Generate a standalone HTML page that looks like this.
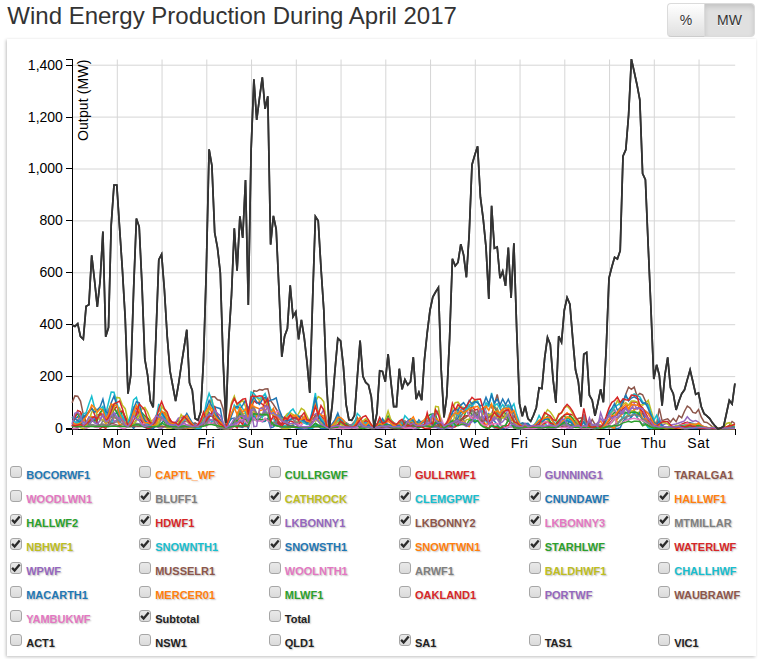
<!DOCTYPE html>
<html><head><meta charset="utf-8"><title>Wind Energy Production</title>
<style>
html,body{margin:0;padding:0;background:#fff;}
body{width:761px;height:659px;overflow:hidden;position:relative;font-family:"Liberation Sans",sans-serif;font-size:14px;color:#333;}
h3{position:absolute;left:7.3px;top:0px;margin:0;font-size:24px;font-weight:normal;line-height:32px;color:#333;white-space:nowrap;}
.bg{position:absolute;left:667px;top:3px;height:34px;}
.btn{position:absolute;top:0;height:32px;line-height:32px;text-align:center;font-size:14px;color:#333;border:1px solid #ccc;text-shadow:0 1px 0 #fff;}
.b1{left:0;width:36px;border-radius:4px 0 0 4px;background:linear-gradient(#fff,#e0e0e0);border-color:#dbdbdb #ccc #ccc #dbdbdb;}
.b2{left:37px;width:49px;border-radius:0 4px 4px 0;background:#e0e0e0;border-color:#dbdbdb;box-shadow:inset 0 3px 5px rgba(0,0,0,.125);}
.box{position:absolute;left:7px;top:38.5px;width:748.5px;height:617.5px;box-shadow:-1px 1px 3px rgba(0,0,0,.25);}
svg.ch{position:absolute;left:0;top:0;}
svg.ch text{font-family:"Liberation Sans",sans-serif;font-size:14px;fill:#000;}
.g{stroke:#d6d6d6;stroke-width:1;fill:none;}
.ax{stroke:#000;stroke-width:1;fill:none;shape-rendering:crispEdges;}
.l{fill:none;stroke-width:1.5;}
.cb{position:absolute;width:10px;height:10px;border:1px solid #a6a6a6;border-radius:3px;background:linear-gradient(#e9e9e9,#dbdbdb);}
.cb svg{position:absolute;left:-1px;top:-1px;width:12px;height:12px;}
.cb svg path{fill:none;stroke:#2b2b2b;stroke-width:2.3;}
.lb{position:absolute;font-size:11px;font-weight:bold;line-height:13px;white-space:nowrap;text-shadow:1px 1px 1.5px rgba(0,0,0,.24);}
</style></head><body>
<h3>Wind Energy Production During April 2017</h3>
<div class="bg"><div class="btn b1">%</div><div class="btn b2">MW</div></div>
<div class="box"></div>
<svg class="ch" width="761" height="460" viewBox="0 0 761 460">
<line class="g" x1="117.30" x2="117.30" y1="59.5" y2="428.5"/>
<line class="g" x1="162.05" x2="162.05" y1="59.5" y2="428.5"/>
<line class="g" x1="206.80" x2="206.80" y1="59.5" y2="428.5"/>
<line class="g" x1="251.55" x2="251.55" y1="59.5" y2="428.5"/>
<line class="g" x1="296.30" x2="296.30" y1="59.5" y2="428.5"/>
<line class="g" x1="341.05" x2="341.05" y1="59.5" y2="428.5"/>
<line class="g" x1="385.80" x2="385.80" y1="59.5" y2="428.5"/>
<line class="g" x1="430.55" x2="430.55" y1="59.5" y2="428.5"/>
<line class="g" x1="475.30" x2="475.30" y1="59.5" y2="428.5"/>
<line class="g" x1="520.05" x2="520.05" y1="59.5" y2="428.5"/>
<line class="g" x1="564.80" x2="564.80" y1="59.5" y2="428.5"/>
<line class="g" x1="609.55" x2="609.55" y1="59.5" y2="428.5"/>
<line class="g" x1="654.30" x2="654.30" y1="59.5" y2="428.5"/>
<line class="g" x1="699.05" x2="699.05" y1="59.5" y2="428.5"/>
<line class="g" x1="72.5" x2="735.2" y1="376.60" y2="376.60"/>
<line class="g" x1="72.5" x2="735.2" y1="324.70" y2="324.70"/>
<line class="g" x1="72.5" x2="735.2" y1="272.80" y2="272.80"/>
<line class="g" x1="72.5" x2="735.2" y1="220.90" y2="220.90"/>
<line class="g" x1="72.5" x2="735.2" y1="169.00" y2="169.00"/>
<line class="g" x1="72.5" x2="735.2" y1="117.10" y2="117.10"/>
<line class="g" x1="72.5" x2="735.2" y1="65.20" y2="65.20"/>
<path class="ax" d="M72.5,434.5V429.5H735.2V434.5"/>
<path class="ax" d="M65.5,59.5H72.5V434.5"/>
<rect x="66.0" y="428.0" width="7" height="2" fill="#000" shape-rendering="crispEdges"/>
<rect x="117" y="429" width="1" height="6" fill="#000" shape-rendering="crispEdges"/>
<text x="116.80" y="448.4" text-anchor="middle" style="letter-spacing:.45px">Mon</text>
<rect x="162" y="429" width="1" height="6" fill="#000" shape-rendering="crispEdges"/>
<text x="161.55" y="448.4" text-anchor="middle" style="letter-spacing:.45px">Wed</text>
<rect x="206" y="429" width="1" height="6" fill="#000" shape-rendering="crispEdges"/>
<text x="206.30" y="448.4" text-anchor="middle" style="letter-spacing:.45px">Fri</text>
<rect x="251" y="429" width="1" height="6" fill="#000" shape-rendering="crispEdges"/>
<text x="251.05" y="448.4" text-anchor="middle" style="letter-spacing:.45px">Sun</text>
<rect x="296" y="429" width="1" height="6" fill="#000" shape-rendering="crispEdges"/>
<text x="295.80" y="448.4" text-anchor="middle" style="letter-spacing:.45px">Tue</text>
<rect x="341" y="429" width="1" height="6" fill="#000" shape-rendering="crispEdges"/>
<text x="340.55" y="448.4" text-anchor="middle" style="letter-spacing:.45px">Thu</text>
<rect x="385" y="429" width="1" height="6" fill="#000" shape-rendering="crispEdges"/>
<text x="385.30" y="448.4" text-anchor="middle" style="letter-spacing:.45px">Sat</text>
<rect x="430" y="429" width="1" height="6" fill="#000" shape-rendering="crispEdges"/>
<text x="430.05" y="448.4" text-anchor="middle" style="letter-spacing:.45px">Mon</text>
<rect x="475" y="429" width="1" height="6" fill="#000" shape-rendering="crispEdges"/>
<text x="474.80" y="448.4" text-anchor="middle" style="letter-spacing:.45px">Wed</text>
<rect x="520" y="429" width="1" height="6" fill="#000" shape-rendering="crispEdges"/>
<text x="519.55" y="448.4" text-anchor="middle" style="letter-spacing:.45px">Fri</text>
<rect x="564" y="429" width="1" height="6" fill="#000" shape-rendering="crispEdges"/>
<text x="564.30" y="448.4" text-anchor="middle" style="letter-spacing:.45px">Sun</text>
<rect x="609" y="429" width="1" height="6" fill="#000" shape-rendering="crispEdges"/>
<text x="609.05" y="448.4" text-anchor="middle" style="letter-spacing:.45px">Tue</text>
<rect x="654" y="429" width="1" height="6" fill="#000" shape-rendering="crispEdges"/>
<text x="653.80" y="448.4" text-anchor="middle" style="letter-spacing:.45px">Thu</text>
<rect x="699" y="429" width="1" height="6" fill="#000" shape-rendering="crispEdges"/>
<text x="698.55" y="448.4" text-anchor="middle" style="letter-spacing:.45px">Sat</text>
<line class="ax" x1="65.5" x2="72.5" y1="428.50" y2="428.50"/>
<text x="62.9" y="432.98" text-anchor="end">0</text>
<line class="ax" x1="65.5" x2="72.5" y1="376.60" y2="376.60"/>
<text x="62.9" y="381.08" text-anchor="end">200</text>
<line class="ax" x1="65.5" x2="72.5" y1="324.70" y2="324.70"/>
<text x="62.9" y="329.18" text-anchor="end">400</text>
<line class="ax" x1="65.5" x2="72.5" y1="272.80" y2="272.80"/>
<text x="62.9" y="277.28" text-anchor="end">600</text>
<line class="ax" x1="65.5" x2="72.5" y1="220.90" y2="220.90"/>
<text x="62.9" y="225.38" text-anchor="end">800</text>
<line class="ax" x1="65.5" x2="72.5" y1="168.40" y2="168.40"/>
<text x="62.9" y="173.48" text-anchor="end">1,000</text>
<line class="ax" x1="65.5" x2="72.5" y1="117.10" y2="117.10"/>
<text x="62.9" y="121.58" text-anchor="end">1,200</text>
<line class="ax" x1="65.5" x2="72.5" y1="65.20" y2="65.20"/>
<text x="62.9" y="69.68" text-anchor="end">1,400</text>
<text transform="translate(72.5,59.5) rotate(-90)" y="6" dy="9.94" text-anchor="end" style="letter-spacing:.13px">Output (MW)</text>
<path class="l" stroke="#7f7f7f" d="M72.1,428.5L74.9,428.5L77.7,427.2L80.5,422.5L83.3,424.7L86.1,427.0L88.9,424.4L91.7,417.9L94.5,421.5L97.3,423.0L100.1,426.0L102.9,420.6L105.7,422.7L108.5,422.7L111.2,422.6L114.0,422.5L116.8,421.7L119.6,421.9L122.4,419.7L125.2,423.5L128.0,424.9L130.8,424.6L133.6,412.8L136.4,417.9L139.2,419.2L142.0,421.3L144.8,424.2L147.6,427.4L150.4,427.3L153.2,427.7L156.0,424.3L158.8,422.5L161.6,417.8L164.4,419.3L167.2,422.1L170.0,424.3L172.8,425.4L175.6,426.8L178.4,427.1L181.2,427.4L184.0,428.2L186.8,428.4L189.5,427.4L192.3,427.8L195.1,428.2L197.9,427.7L200.7,427.1L203.5,421.6L206.3,423.2L209.1,421.8L211.9,422.9L214.7,424.0L217.5,424.5L220.3,427.5L223.1,428.5L225.9,428.5L228.7,428.5L231.5,427.3L234.3,423.3L237.1,418.2L239.9,409.3L242.7,418.6L245.5,418.6L248.3,416.3L251.1,415.9L253.9,413.1L256.7,420.4L259.5,418.6L262.3,416.1L265.1,415.4L267.8,414.0L270.6,424.2L273.4,424.0L276.2,420.1L279.0,423.0L281.8,427.0L284.6,426.2L287.4,426.5L290.2,427.9L293.0,424.6L295.8,419.7L298.6,416.6L301.4,415.8L304.2,419.3L307.0,422.2L309.8,424.0L312.6,421.5L315.4,420.1L318.2,421.1L321.0,425.1L323.8,426.6L326.6,427.7L329.4,428.5L332.2,428.4L335.0,428.3L337.8,428.5L340.6,428.5L343.4,428.5L346.1,428.5L348.9,428.5L351.7,428.0L354.5,428.0L357.3,428.5L360.1,428.2L362.9,427.9L365.7,427.6L368.5,427.4L371.3,427.5L374.1,428.1L376.9,424.2L379.7,421.1L382.5,423.3L385.3,422.9L388.1,418.7L390.9,420.6L393.7,422.7L396.5,426.1L399.3,426.7L402.1,425.9L404.9,425.4L407.7,427.1L410.5,427.5L413.3,426.8L416.1,425.1L418.9,426.4L421.7,421.7L424.4,422.2L427.2,420.2L430.0,423.6L432.8,424.4L435.6,422.0L438.4,421.9L441.2,426.5L444.0,427.9L446.8,427.4L449.6,424.1L452.4,413.2L455.2,418.1L458.0,419.5L460.8,418.3L463.6,420.0L466.4,424.4L469.2,424.9L472.0,420.5L474.8,420.4L477.6,414.9L480.4,422.2L483.2,425.0L486.0,427.9L488.8,428.5L491.6,425.9L494.4,428.0L497.2,427.4L500.0,428.1L502.7,426.5L505.5,426.5L508.3,418.8L511.1,423.6L513.9,426.8L516.7,428.5L519.5,428.5L522.3,428.5L525.1,428.5L527.9,428.5L530.7,428.5L533.5,428.5L536.3,428.5L539.1,428.5L541.9,428.5L544.7,427.7L547.5,426.3L550.3,427.7L553.1,428.3L555.9,427.1L558.7,424.1L561.5,417.6L564.3,422.8L567.1,425.4L569.9,425.8L572.7,423.9L575.5,421.4L578.3,422.8L581.0,421.8L583.8,421.3L586.6,427.2L589.4,427.1L592.2,428.1L595.0,428.5L597.8,427.7L600.6,425.7L603.4,426.5L606.2,426.0L609.0,424.4L611.8,422.4L614.6,419.3L617.4,419.1L620.2,415.8L623.0,418.1L625.8,416.7L628.6,414.9L631.4,411.7L634.2,412.6L637.0,417.3L639.8,420.9L642.6,424.7L645.4,422.6L648.2,423.2L651.0,425.5L653.8,426.4L656.6,427.1L659.3,426.7L662.1,427.6L664.9,428.2L667.7,428.2L670.5,427.3L673.3,427.4L676.1,427.3L678.9,427.6L681.7,426.7L684.5,425.0L687.3,422.6L690.1,422.8L692.9,424.8L695.7,426.6L698.5,427.2L701.3,428.2L704.1,428.3L706.9,428.4L709.7,428.5L712.5,428.4L715.3,428.4L718.1,428.4L720.9,428.4L723.7,428.3L726.5,428.1L729.3,427.9L732.1,427.9L734.9,428.1"/>
<path class="l" stroke="#bcbd22" d="M72.1,426.5L74.9,424.6L77.7,422.7L80.5,427.6L83.3,428.5L86.1,428.3L88.9,426.4L91.7,418.9L94.5,417.9L97.3,414.8L100.1,414.2L102.9,409.3L105.7,414.9L108.5,409.4L111.2,404.3L114.0,408.1L116.8,411.3L119.6,407.9L122.4,415.6L125.2,423.2L128.0,421.4L130.8,423.2L133.6,414.7L136.4,414.3L139.2,413.9L142.0,420.0L144.8,417.3L147.6,420.1L150.4,421.0L153.2,424.1L156.0,421.3L158.8,425.0L161.6,425.7L164.4,426.7L167.2,428.0L170.0,428.1L172.8,428.3L175.6,426.7L178.4,425.8L181.2,427.0L184.0,428.2L186.8,428.5L189.5,426.5L192.3,425.8L195.1,428.2L197.9,426.6L200.7,421.7L203.5,417.8L206.3,421.6L209.1,415.7L211.9,416.1L214.7,412.5L217.5,420.0L220.3,425.4L223.1,428.1L225.9,428.5L228.7,428.5L231.5,428.5L234.3,425.1L237.1,420.5L239.9,413.3L242.7,413.9L245.5,413.0L248.3,419.7L251.1,416.6L253.9,409.8L256.7,416.2L259.5,412.8L262.3,417.1L265.1,410.0L267.8,414.0L270.6,425.6L273.4,422.5L276.2,422.5L279.0,425.9L281.8,428.5L284.6,428.5L287.4,428.5L290.2,427.6L293.0,423.8L295.8,421.4L298.6,422.9L301.4,422.4L304.2,421.6L307.0,421.8L309.8,421.8L312.6,419.9L315.4,421.1L318.2,419.4L321.0,422.6L323.8,425.1L326.6,425.6L329.4,428.4L332.2,426.3L335.0,424.0L337.8,419.9L340.6,423.1L343.4,425.7L346.1,424.8L348.9,426.9L351.7,425.6L354.5,423.1L357.3,420.5L360.1,425.5L362.9,427.1L365.7,422.7L368.5,423.5L371.3,425.7L374.1,427.9L376.9,426.8L379.7,425.7L382.5,425.8L385.3,424.6L388.1,426.2L390.9,428.3L393.7,426.1L396.5,426.7L399.3,426.9L402.1,426.3L404.9,427.9L407.7,427.5L410.5,426.5L413.3,423.3L416.1,425.1L418.9,425.4L421.7,424.8L424.4,425.2L427.2,425.8L430.0,425.2L432.8,423.6L435.6,425.2L438.4,427.9L441.2,427.8L444.0,428.2L446.8,424.6L449.6,419.9L452.4,423.7L455.2,414.4L458.0,407.9L460.8,423.6L463.6,424.3L466.4,419.6L469.2,419.2L472.0,414.4L474.8,416.0L477.6,417.9L480.4,422.5L483.2,424.9L486.0,427.3L488.8,418.0L491.6,415.5L494.4,418.1L497.2,408.4L500.0,415.3L502.7,409.5L505.5,418.5L508.3,415.8L511.1,419.7L513.9,419.6L516.7,426.2L519.5,428.4L522.3,426.9L525.1,426.0L527.9,427.4L530.7,427.9L533.5,428.2L536.3,425.3L539.1,423.1L541.9,425.6L544.7,424.6L547.5,420.2L550.3,423.1L553.1,426.0L555.9,426.3L558.7,424.9L561.5,424.1L564.3,424.7L567.1,426.2L569.9,420.0L572.7,420.6L575.5,424.0L578.3,422.8L581.0,420.9L583.8,415.5L586.6,425.8L589.4,427.5L592.2,428.4L595.0,428.5L597.8,428.5L600.6,428.2L603.4,427.6L606.2,426.0L609.0,424.0L611.8,421.3L614.6,418.8L617.4,422.0L620.2,422.0L623.0,417.7L625.8,412.3L628.6,415.7L631.4,411.0L634.2,410.6L637.0,414.5L639.8,411.0L642.6,420.8L645.4,419.5L648.2,426.4L651.0,428.5L653.8,428.5L656.6,428.5L659.3,428.5L662.1,428.1L664.9,428.0L667.7,428.1L670.5,427.6L673.3,427.3L676.1,427.0L678.9,427.8L681.7,428.5L684.5,428.5L687.3,428.5L690.1,428.3L692.9,427.8L695.7,427.4L698.5,427.5L701.3,427.8L704.1,428.1L706.9,428.1L709.7,428.2L712.5,428.2L715.3,428.4L718.1,428.5L720.9,428.5L723.7,428.5L726.5,428.5L729.3,428.5L732.1,428.5L734.9,428.5"/>
<path class="l" stroke="#17becf" d="M72.1,425.3L74.9,424.6L77.7,421.2L80.5,422.1L83.3,422.1L86.1,423.7L88.9,418.8L91.7,417.4L94.5,417.8L97.3,421.9L100.1,427.1L102.9,425.2L105.7,426.4L108.5,426.6L111.2,423.5L114.0,416.8L116.8,418.8L119.6,420.9L122.4,415.9L125.2,420.3L128.0,420.8L130.8,421.0L133.6,408.0L136.4,414.5L139.2,412.6L142.0,415.2L144.8,419.7L147.6,426.0L150.4,426.4L153.2,425.8L156.0,420.8L158.8,417.4L161.6,411.7L164.4,413.4L167.2,420.8L170.0,425.1L172.8,427.4L175.6,426.7L178.4,424.4L181.2,425.1L184.0,426.8L186.8,427.5L189.5,425.9L192.3,427.7L195.1,428.5L197.9,428.5L200.7,428.5L203.5,423.0L206.3,421.4L209.1,418.5L211.9,421.7L214.7,419.8L217.5,424.7L220.3,428.5L223.1,427.2L225.9,428.3L228.7,428.5L231.5,425.9L234.3,420.7L237.1,426.8L239.9,425.3L242.7,427.0L245.5,422.1L248.3,425.6L251.1,415.2L253.9,417.0L256.7,414.3L259.5,414.0L262.3,417.4L265.1,411.0L267.8,415.1L270.6,419.2L273.4,418.3L276.2,424.4L279.0,425.1L281.8,426.8L284.6,425.5L287.4,426.2L290.2,425.5L293.0,425.9L295.8,427.9L298.6,428.3L301.4,428.5L304.2,428.5L307.0,428.5L309.8,428.5L312.6,428.2L315.4,425.7L318.2,425.6L321.0,426.2L323.8,425.5L326.6,425.3L329.4,428.2L332.2,426.5L335.0,424.5L337.8,420.9L340.6,421.8L343.4,424.8L346.1,424.5L348.9,426.7L351.7,424.8L354.5,421.7L357.3,418.3L360.1,426.3L362.9,427.3L365.7,420.1L368.5,422.2L371.3,425.1L374.1,427.7L376.9,425.9L379.7,422.6L382.5,423.1L385.3,426.1L388.1,419.6L390.9,419.6L393.7,423.4L396.5,426.3L399.3,425.0L402.1,423.8L404.9,425.5L407.7,426.5L410.5,427.1L413.3,427.5L416.1,427.1L418.9,425.9L421.7,425.0L424.4,425.0L427.2,425.6L430.0,427.1L432.8,426.2L435.6,426.5L438.4,427.6L441.2,428.5L444.0,428.5L446.8,428.2L449.6,427.3L452.4,425.1L455.2,421.8L458.0,411.3L460.8,416.8L463.6,411.4L466.4,409.9L469.2,414.7L472.0,419.4L474.8,419.9L477.6,421.0L480.4,420.3L483.2,420.2L486.0,421.0L488.8,424.0L491.6,424.7L494.4,427.7L497.2,427.7L500.0,428.5L502.7,428.4L505.5,427.4L508.3,425.7L511.1,427.0L513.9,427.6L516.7,428.5L519.5,428.5L522.3,428.5L525.1,428.0L527.9,427.1L530.7,427.2L533.5,427.6L536.3,426.9L539.1,425.0L541.9,424.1L544.7,422.9L547.5,426.6L550.3,424.9L553.1,423.8L555.9,426.4L558.7,423.7L561.5,425.4L564.3,424.4L567.1,423.8L569.9,425.6L572.7,426.2L575.5,423.2L578.3,424.6L581.0,425.8L583.8,422.0L586.6,426.3L589.4,428.5L592.2,428.3L595.0,428.1L597.8,427.6L600.6,427.1L603.4,428.0L606.2,427.4L609.0,427.2L611.8,427.8L614.6,428.2L617.4,425.3L620.2,420.2L623.0,417.6L625.8,412.4L628.6,414.1L631.4,416.9L634.2,411.4L637.0,417.0L639.8,414.0L642.6,419.8L645.4,423.9L648.2,427.9L651.0,428.4L653.8,428.0L656.6,428.1L659.3,427.9L662.1,428.0L664.9,428.2L667.7,428.2L670.5,427.9L673.3,428.0L676.1,427.9L678.9,427.8L681.7,427.0L684.5,426.2L687.3,425.2L690.1,424.6L692.9,425.1L695.7,425.2L698.5,425.3L701.3,427.5L704.1,427.8L706.9,428.0L709.7,428.1L712.5,428.1L715.3,428.2L718.1,428.4L720.9,428.3L723.7,428.3L726.5,428.4L729.3,428.4L732.1,428.2L734.9,428.0"/>
<path class="l" stroke="#1f77b4" d="M72.1,426.7L74.9,418.9L77.7,416.7L80.5,421.5L83.3,425.9L86.1,427.5L88.9,425.2L91.7,420.0L94.5,420.1L97.3,414.8L100.1,415.6L102.9,415.6L105.7,417.5L108.5,413.0L111.2,403.9L114.0,416.7L116.8,412.0L119.6,418.8L122.4,419.6L125.2,425.9L128.0,422.4L130.8,425.1L133.6,428.5L136.4,424.3L139.2,424.2L142.0,425.9L144.8,427.4L147.6,428.5L150.4,428.5L153.2,428.4L156.0,425.9L158.8,424.4L161.6,424.2L164.4,417.7L167.2,421.7L170.0,425.0L172.8,427.7L175.6,428.5L178.4,428.5L181.2,428.0L184.0,428.0L186.8,428.1L189.5,427.0L192.3,426.1L195.1,428.0L197.9,424.7L200.7,419.2L203.5,414.4L206.3,413.7L209.1,412.7L211.9,415.4L214.7,407.0L217.5,407.8L220.3,408.7L223.1,424.1L225.9,427.3L228.7,422.3L231.5,418.6L234.3,418.1L237.1,426.4L239.9,426.7L242.7,427.4L245.5,423.4L248.3,428.5L251.1,418.1L253.9,416.8L256.7,420.6L259.5,420.2L262.3,421.7L265.1,421.2L267.8,418.2L270.6,427.9L273.4,426.9L276.2,424.0L279.0,421.9L281.8,426.8L284.6,421.4L287.4,423.0L290.2,426.3L293.0,425.6L295.8,427.2L298.6,428.5L301.4,428.5L304.2,428.5L307.0,428.5L309.8,427.7L312.6,426.7L315.4,423.5L318.2,426.1L321.0,428.5L323.8,428.5L326.6,428.5L329.4,428.5L332.2,428.4L335.0,428.2L337.8,427.9L340.6,428.5L343.4,428.5L346.1,428.2L348.9,428.2L351.7,427.9L354.5,426.8L357.3,425.0L360.1,424.3L362.9,424.6L365.7,422.5L368.5,423.8L371.3,427.1L374.1,428.2L376.9,427.8L379.7,427.4L382.5,427.5L385.3,427.1L388.1,426.1L390.9,425.3L393.7,424.8L396.5,425.6L399.3,426.4L402.1,422.9L404.9,421.6L407.7,424.5L410.5,423.1L413.3,425.4L416.1,424.7L418.9,422.4L421.7,421.7L424.4,423.1L427.2,424.5L430.0,424.3L432.8,415.1L435.6,416.5L438.4,421.5L441.2,423.1L444.0,427.3L446.8,424.8L449.6,420.1L452.4,422.9L455.2,420.5L458.0,417.9L460.8,412.2L463.6,412.2L466.4,410.5L469.2,415.4L472.0,419.2L474.8,422.7L477.6,420.7L480.4,421.9L483.2,419.3L486.0,417.6L488.8,413.7L491.6,419.5L494.4,421.0L497.2,424.5L500.0,428.5L502.7,428.5L505.5,428.5L508.3,427.6L511.1,426.1L513.9,425.9L516.7,426.0L519.5,427.6L522.3,427.2L525.1,425.0L527.9,427.3L530.7,427.0L533.5,426.1L536.3,423.9L539.1,422.4L541.9,421.6L544.7,418.7L547.5,416.4L550.3,422.6L553.1,424.2L555.9,425.2L558.7,424.4L561.5,427.1L564.3,426.9L567.1,426.8L569.9,418.4L572.7,422.9L575.5,425.3L578.3,423.7L581.0,425.4L583.8,421.9L586.6,426.9L589.4,427.9L592.2,428.3L595.0,428.5L597.8,427.7L600.6,426.9L603.4,427.8L606.2,427.5L609.0,426.0L611.8,427.2L614.6,428.2L617.4,428.4L620.2,427.8L623.0,421.2L625.8,418.8L628.6,419.8L631.4,416.8L634.2,414.0L637.0,416.0L639.8,412.4L642.6,413.8L645.4,419.6L648.2,420.9L651.0,418.5L653.8,423.6L656.6,427.1L659.3,426.0L662.1,427.1L664.9,427.0L667.7,427.3L670.5,426.9L673.3,426.7L676.1,427.0L678.9,426.0L681.7,425.0L684.5,423.5L687.3,422.6L690.1,423.0L692.9,423.5L695.7,424.5L698.5,426.0L701.3,427.5L704.1,426.9L706.9,427.6L709.7,428.1L712.5,428.1L715.3,428.4L718.1,428.5L720.9,428.5L723.7,428.4L726.5,428.4L729.3,428.3L732.1,428.3L734.9,428.2"/>
<path class="l" stroke="#ff7f0e" d="M72.1,416.8L74.9,418.3L77.7,420.7L80.5,413.8L83.3,418.7L86.1,423.0L88.9,417.4L91.7,416.6L94.5,417.1L97.3,414.8L100.1,415.1L102.9,415.0L105.7,424.8L108.5,415.5L111.2,417.1L114.0,418.1L116.8,417.6L119.6,425.3L122.4,423.5L125.2,425.0L128.0,422.6L130.8,420.8L133.6,410.5L136.4,414.6L139.2,410.5L142.0,414.2L144.8,419.4L147.6,422.3L150.4,421.7L153.2,419.8L156.0,416.4L158.8,409.3L161.6,414.0L164.4,413.1L167.2,419.8L170.0,423.4L172.8,426.7L175.6,427.8L178.4,428.4L181.2,428.5L184.0,428.4L186.8,428.1L189.5,427.9L192.3,427.8L195.1,427.7L197.9,425.8L200.7,421.8L203.5,420.7L206.3,420.3L209.1,405.9L211.9,413.0L214.7,408.1L217.5,421.2L220.3,426.4L223.1,428.5L225.9,428.5L228.7,428.5L231.5,427.5L234.3,422.1L237.1,421.5L239.9,418.3L242.7,415.2L245.5,418.2L248.3,424.9L251.1,406.5L253.9,409.2L256.7,416.3L259.5,410.9L262.3,410.0L265.1,400.1L267.8,400.1L270.6,412.3L273.4,408.3L276.2,416.8L279.0,411.5L281.8,417.2L284.6,419.2L287.4,418.6L290.2,416.8L293.0,414.6L295.8,416.5L298.6,420.5L301.4,423.0L304.2,416.1L307.0,422.4L309.8,422.9L312.6,418.7L315.4,416.9L318.2,413.9L321.0,416.4L323.8,421.7L326.6,423.5L329.4,428.2L332.2,427.3L335.0,427.3L337.8,426.2L340.6,422.6L343.4,421.7L346.1,422.8L348.9,425.5L351.7,424.8L354.5,421.8L357.3,417.4L360.1,422.6L362.9,421.5L365.7,420.1L368.5,422.5L371.3,426.3L374.1,428.0L376.9,426.6L379.7,424.2L382.5,426.0L385.3,424.6L388.1,419.4L390.9,422.4L393.7,422.7L396.5,424.3L399.3,425.8L402.1,422.5L404.9,421.2L407.7,422.4L410.5,422.6L413.3,421.6L416.1,422.0L418.9,426.0L421.7,426.2L424.4,426.4L427.2,425.4L430.0,424.7L432.8,423.3L435.6,421.7L438.4,424.7L441.2,428.1L444.0,428.4L446.8,427.0L449.6,425.1L452.4,420.7L455.2,422.5L458.0,423.1L460.8,419.8L463.6,422.6L466.4,425.9L469.2,426.6L472.0,417.6L474.8,416.7L477.6,414.2L480.4,418.1L483.2,419.1L486.0,426.1L488.8,421.9L491.6,418.8L494.4,412.3L497.2,413.8L500.0,422.6L502.7,411.3L505.5,410.7L508.3,407.3L511.1,410.1L513.9,413.2L516.7,417.6L519.5,424.7L522.3,423.6L525.1,423.7L527.9,426.6L530.7,426.9L533.5,426.9L536.3,425.4L539.1,425.0L541.9,421.1L544.7,421.4L547.5,422.1L550.3,423.0L553.1,424.2L555.9,425.4L558.7,422.4L561.5,417.6L564.3,415.3L567.1,412.8L569.9,415.4L572.7,419.7L575.5,423.0L578.3,426.7L581.0,428.0L583.8,426.4L586.6,426.7L589.4,423.6L592.2,425.4L595.0,425.9L597.8,423.4L600.6,421.1L603.4,425.3L606.2,426.0L609.0,426.0L611.8,427.5L614.6,428.1L617.4,417.7L620.2,415.9L623.0,413.4L625.8,407.4L628.6,409.9L631.4,403.9L634.2,410.3L637.0,407.8L639.8,408.0L642.6,419.3L645.4,418.8L648.2,422.1L651.0,419.8L653.8,423.6L656.6,427.1L659.3,425.9L662.1,426.2L664.9,427.4L667.7,427.9L670.5,427.2L673.3,427.0L676.1,427.1L678.9,426.6L681.7,426.4L684.5,427.6L687.3,427.1L690.1,425.9L692.9,425.6L695.7,424.0L698.5,426.3L701.3,427.4L704.1,427.2L706.9,427.7L709.7,428.0L712.5,427.8L715.3,428.1L718.1,428.4L720.9,428.3L723.7,428.0L726.5,427.0L729.3,425.5L732.1,426.0L734.9,425.5"/>
<path class="l" stroke="#2ca02c" d="M72.1,418.4L74.9,416.6L77.7,413.4L80.5,419.2L83.3,425.8L86.1,426.6L88.9,423.1L91.7,421.4L94.5,420.8L97.3,420.3L100.1,412.4L102.9,409.3L105.7,417.3L108.5,417.7L111.2,416.9L114.0,408.3L116.8,412.3L119.6,417.1L122.4,410.9L125.2,417.3L128.0,420.8L130.8,424.3L133.6,424.2L136.4,419.8L139.2,412.8L142.0,412.8L144.8,415.9L147.6,417.8L150.4,421.0L153.2,425.0L156.0,419.6L158.8,418.9L161.6,417.1L164.4,422.4L167.2,426.7L170.0,426.5L172.8,428.0L175.6,428.5L178.4,428.4L181.2,428.1L184.0,427.6L186.8,427.1L189.5,426.6L192.3,426.4L195.1,426.6L197.9,426.1L200.7,423.2L203.5,415.3L206.3,417.0L209.1,415.3L211.9,416.1L214.7,415.5L217.5,423.8L220.3,428.2L223.1,428.5L225.9,428.5L228.7,428.5L231.5,427.2L234.3,420.4L237.1,420.8L239.9,413.4L242.7,421.1L245.5,418.2L248.3,426.0L251.1,420.8L253.9,419.6L256.7,419.9L259.5,419.4L262.3,419.6L265.1,419.8L267.8,419.6L270.6,423.2L273.4,425.3L276.2,425.8L279.0,426.2L281.8,426.5L284.6,426.7L287.4,426.7L290.2,426.5L293.0,426.6L295.8,426.7L298.6,427.0L301.4,427.0L304.2,426.9L307.0,427.0L309.8,426.7L312.6,425.6L315.4,423.2L318.2,425.0L321.0,425.6L323.8,426.2L326.6,427.5L329.4,428.2L332.2,427.5L335.0,427.0L337.8,426.7L340.6,420.5L343.4,423.0L346.1,422.8L348.9,424.9L351.7,424.9L354.5,424.1L357.3,424.7L360.1,426.3L362.9,426.7L365.7,426.2L368.5,426.4L371.3,427.0L374.1,428.0L376.9,424.2L379.7,420.8L382.5,421.8L385.3,422.2L388.1,415.9L390.9,421.0L393.7,422.7L396.5,424.3L399.3,422.7L402.1,421.1L404.9,423.4L407.7,423.4L410.5,422.9L413.3,422.0L416.1,421.5L418.9,423.3L421.7,421.7L424.4,420.6L427.2,417.4L430.0,414.6L432.8,413.8L435.6,414.4L438.4,425.9L441.2,423.9L444.0,426.6L446.8,422.5L449.6,423.6L452.4,426.6L455.2,426.1L458.0,425.2L460.8,420.0L463.6,418.3L466.4,409.5L469.2,408.8L472.0,415.2L474.8,413.2L477.6,415.6L480.4,410.6L483.2,407.8L486.0,406.9L488.8,402.7L491.6,407.4L494.4,405.9L497.2,413.3L500.0,423.2L502.7,411.8L505.5,413.2L508.3,419.3L511.1,422.4L513.9,424.3L516.7,427.8L519.5,428.3L522.3,426.2L525.1,423.7L527.9,425.1L530.7,426.0L533.5,425.9L536.3,423.7L539.1,421.0L541.9,420.0L544.7,418.5L547.5,416.4L550.3,422.2L553.1,424.5L555.9,423.5L558.7,420.3L561.5,417.6L564.3,415.7L567.1,420.0L569.9,415.4L572.7,418.3L575.5,422.5L578.3,422.8L581.0,420.9L583.8,415.5L586.6,423.8L589.4,421.8L592.2,424.8L595.0,427.1L597.8,422.9L600.6,427.5L603.4,426.7L606.2,424.6L609.0,420.4L611.8,415.3L614.6,412.4L617.4,412.8L620.2,413.6L623.0,413.2L625.8,412.8L628.6,412.4L631.4,412.4L634.2,412.0L637.0,412.4L639.8,415.3L642.6,420.4L645.4,422.9L648.2,424.6L651.0,426.3L653.8,427.5L656.6,427.9L659.3,427.9L662.1,427.9L664.9,428.2L667.7,428.2L670.5,428.1L673.3,427.5L676.1,426.3L678.9,426.0L681.7,426.8L684.5,427.0L687.3,426.6L690.1,426.0L692.9,426.1L695.7,427.2L698.5,426.7L701.3,427.5L704.1,428.1L706.9,428.2L709.7,428.3L712.5,428.1L715.3,428.3L718.1,428.5L720.9,428.4L723.7,428.3L726.5,428.3L729.3,428.2L732.1,427.3L734.9,427.4"/>
<path class="l" stroke="#d62728" d="M72.1,425.9L74.9,417.6L77.7,410.6L80.5,411.9L83.3,417.5L86.1,416.0L88.9,411.3L91.7,408.0L94.5,414.3L97.3,422.9L100.1,428.5L102.9,426.7L105.7,428.5L108.5,423.9L111.2,413.3L114.0,409.6L116.8,406.2L119.6,412.2L122.4,410.9L125.2,417.3L128.0,420.8L130.8,419.2L133.6,408.0L136.4,408.1L139.2,414.7L142.0,422.1L144.8,426.7L147.6,428.5L150.4,428.1L153.2,425.9L156.0,421.4L158.8,416.7L161.6,411.6L164.4,412.8L167.2,415.6L170.0,419.0L172.8,424.4L175.6,422.8L178.4,420.1L181.2,424.2L184.0,421.6L186.8,421.4L189.5,422.5L192.3,423.9L195.1,426.5L197.9,424.3L200.7,419.2L203.5,416.5L206.3,418.3L209.1,417.0L211.9,412.6L214.7,407.0L217.5,415.4L220.3,420.2L223.1,425.4L225.9,427.9L228.7,428.5L231.5,428.5L234.3,425.2L237.1,428.0L239.9,421.2L242.7,424.6L245.5,415.6L248.3,419.6L251.1,409.0L253.9,400.7L256.7,403.1L259.5,401.9L262.3,404.3L265.1,406.6L267.8,403.1L270.6,411.4L273.4,416.1L276.2,420.8L279.0,424.4L281.8,425.6L284.6,423.2L287.4,424.4L290.2,420.8L293.0,422.0L295.8,423.2L298.6,424.4L301.4,420.8L304.2,419.6L307.0,423.2L309.8,424.4L312.6,420.8L315.4,414.9L318.2,418.5L321.0,416.1L323.8,418.5L326.6,426.7L329.4,428.2L332.2,427.0L335.0,426.5L337.8,425.6L340.6,428.3L343.4,428.4L346.1,426.4L348.9,427.3L351.7,426.5L354.5,424.0L357.3,418.3L360.1,423.6L362.9,425.2L365.7,420.1L368.5,422.2L371.3,426.4L374.1,428.3L376.9,428.0L379.7,427.1L382.5,426.4L385.3,426.7L388.1,424.4L390.9,427.0L393.7,423.2L396.5,424.8L399.3,424.6L402.1,421.7L404.9,421.2L407.7,422.4L410.5,423.3L413.3,421.2L416.1,424.0L418.9,425.1L421.7,427.0L424.4,428.3L427.2,428.5L430.0,428.5L432.8,425.8L435.6,423.1L438.4,424.2L441.2,426.4L444.0,427.7L446.8,424.9L449.6,426.0L452.4,427.7L455.2,426.9L458.0,424.6L460.8,420.9L463.6,416.4L466.4,415.8L469.2,415.7L472.0,405.1L474.8,410.1L477.6,409.3L480.4,419.2L483.2,422.4L486.0,426.5L488.8,428.5L491.6,421.5L494.4,427.2L497.2,427.8L500.0,428.5L502.7,427.4L505.5,426.0L508.3,425.5L511.1,420.3L513.9,415.7L516.7,420.9L519.5,427.0L522.3,425.0L525.1,423.7L527.9,426.7L530.7,426.9L533.5,426.7L536.3,426.5L539.1,426.2L541.9,424.4L544.7,423.2L547.5,422.0L550.3,423.2L553.1,423.8L555.9,424.4L558.7,422.0L561.5,418.5L564.3,414.9L567.1,414.3L569.9,414.3L572.7,414.9L575.5,418.5L578.3,423.2L581.0,426.7L583.8,425.6L586.6,426.2L589.4,426.7L592.2,427.3L595.0,427.0L597.8,426.7L600.6,427.5L603.4,426.3L606.2,423.7L609.0,420.4L611.8,417.0L614.6,415.3L617.4,413.6L620.2,412.0L623.0,408.6L625.8,406.9L628.6,405.2L631.4,401.9L634.2,401.9L637.0,402.3L639.8,408.6L642.6,412.0L645.4,416.2L648.2,419.5L651.0,423.7L653.8,426.3L656.6,427.1L659.3,427.3L662.1,427.1L664.9,427.9L667.7,427.9L670.5,428.0L673.3,427.8L676.1,427.3L678.9,425.7L681.7,424.3L684.5,423.0L687.3,422.2L690.1,424.2L692.9,424.9L695.7,425.4L698.5,426.2L701.3,427.8L704.1,428.2L706.9,428.4L709.7,428.5L712.5,428.3L715.3,428.4L718.1,428.5L720.9,428.5L723.7,428.5L726.5,428.4L729.3,428.4L732.1,428.0L734.9,428.1"/>
<path class="l" stroke="#9467bd" d="M72.1,425.2L74.9,424.6L77.7,420.5L80.5,417.2L83.3,421.2L86.1,424.0L88.9,424.3L91.7,421.2L94.5,416.8L97.3,414.8L100.1,419.0L102.9,415.2L105.7,417.0L108.5,409.4L111.2,410.3L114.0,421.7L116.8,420.1L119.6,417.9L122.4,421.7L125.2,424.9L128.0,423.7L130.8,421.6L133.6,408.0L136.4,411.6L139.2,416.7L142.0,419.4L144.8,423.3L147.6,427.0L150.4,426.0L153.2,425.9L156.0,426.2L158.8,427.7L161.6,428.1L164.4,426.5L167.2,424.6L170.0,423.2L172.8,422.4L175.6,422.4L178.4,418.2L181.2,417.1L184.0,420.4L186.8,421.4L189.5,422.4L192.3,423.5L195.1,424.6L197.9,423.8L200.7,424.2L203.5,421.4L206.3,426.4L209.1,420.1L211.9,419.7L214.7,421.7L217.5,422.0L220.3,422.4L223.1,426.0L225.9,427.6L228.7,427.0L231.5,423.3L234.3,418.3L237.1,419.2L239.9,415.9L242.7,416.3L245.5,418.2L248.3,416.9L251.1,411.5L253.9,409.1L256.7,413.6L259.5,416.2L262.3,415.3L265.1,405.7L267.8,407.7L270.6,426.9L273.4,424.0L276.2,424.2L279.0,426.1L281.8,427.6L284.6,426.8L287.4,426.5L290.2,427.0L293.0,427.1L295.8,428.0L298.6,427.2L301.4,427.4L304.2,428.5L307.0,428.1L309.8,425.8L312.6,416.0L315.4,413.8L318.2,412.9L321.0,414.5L323.8,409.3L326.6,418.4L329.4,427.8L332.2,423.6L335.0,420.4L337.8,417.7L340.6,419.3L343.4,420.7L346.1,422.8L348.9,424.9L351.7,424.8L354.5,423.3L357.3,422.5L360.1,427.0L362.9,427.8L365.7,426.1L368.5,427.6L371.3,428.5L374.1,428.4L376.9,427.9L379.7,428.2L382.5,428.2L385.3,428.0L388.1,427.8L390.9,428.1L393.7,428.0L396.5,428.3L399.3,428.5L402.1,428.1L404.9,428.0L407.7,428.0L410.5,428.0L413.3,428.5L416.1,428.4L418.9,427.7L421.7,426.0L424.4,425.0L427.2,422.1L430.0,421.9L432.8,427.4L435.6,427.2L438.4,428.4L441.2,428.4L444.0,428.4L446.8,427.9L449.6,427.6L452.4,428.1L455.2,424.8L458.0,421.7L460.8,424.5L463.6,424.8L466.4,426.3L469.2,425.0L472.0,415.5L474.8,412.5L477.6,417.0L480.4,423.2L483.2,422.2L486.0,418.4L488.8,415.5L491.6,417.9L494.4,420.4L497.2,415.3L500.0,414.7L502.7,417.1L505.5,418.6L508.3,405.7L511.1,407.9L513.9,423.9L516.7,426.4L519.5,427.6L522.3,426.0L525.1,424.2L527.9,425.1L530.7,426.0L533.5,425.3L536.3,423.7L539.1,423.7L541.9,425.6L544.7,426.4L547.5,427.8L550.3,427.7L553.1,428.0L555.9,428.0L558.7,426.9L561.5,425.3L564.3,426.4L567.1,428.3L569.9,427.8L572.7,427.9L575.5,426.7L578.3,426.1L581.0,423.7L583.8,415.6L586.6,423.8L589.4,421.8L592.2,424.8L595.0,424.9L597.8,422.9L600.6,418.3L603.4,422.1L606.2,420.1L609.0,416.3L611.8,412.3L614.6,409.8L617.4,415.4L620.2,410.5L623.0,413.8L625.8,407.4L628.6,412.2L631.4,408.1L634.2,403.8L637.0,409.2L639.8,408.0L642.6,409.4L645.4,410.9L648.2,413.1L651.0,418.5L653.8,423.6L656.6,425.1L659.3,418.4L662.1,425.5L664.9,424.0L667.7,423.0L670.5,425.0L673.3,424.5L676.1,424.0L678.9,423.0L681.7,422.0L684.5,421.0L687.3,416.8L690.1,420.0L692.9,421.5L695.7,420.5L698.5,422.0L701.3,425.0L704.1,427.0L706.9,427.5L709.7,428.0L712.5,427.9L715.3,428.3L718.1,428.5L720.9,428.5L723.7,428.4L726.5,428.4L729.3,428.3L732.1,428.3L734.9,428.3"/>
<path class="l" stroke="#8c564b" d="M72.1,402.7L74.9,395.9L77.7,396.2L80.5,401.0L83.3,414.6L86.1,421.7L88.9,425.2L91.7,425.8L94.5,426.2L97.3,426.2L100.1,426.2L102.9,425.9L105.7,425.8L108.5,425.2L111.2,423.4L114.0,424.0L116.8,425.2L119.6,425.8L122.4,426.2L125.2,426.2L128.0,426.4L130.8,426.4L133.6,426.4L136.4,426.4L139.2,426.4L142.0,426.4L144.8,426.4L147.6,426.4L150.4,426.4L153.2,426.4L156.0,426.4L158.8,426.4L161.6,426.4L164.4,426.4L167.2,426.4L170.0,426.4L172.8,426.4L175.6,426.4L178.4,426.4L181.2,426.4L184.0,426.2L186.8,425.8L189.5,425.2L192.3,424.0L195.1,422.8L197.9,424.6L200.7,425.8L203.5,425.2L206.3,420.5L209.1,408.7L211.9,396.8L214.7,396.8L217.5,399.8L220.3,400.4L223.1,408.7L225.9,427.0L228.7,426.4L231.5,426.4L234.3,426.4L237.1,426.4L239.9,426.4L242.7,426.4L245.5,426.4L248.3,426.4L251.1,399.5L253.9,390.7L256.7,391.3L259.5,389.5L262.3,390.1L265.1,388.9L267.8,388.7L270.6,400.7L273.4,404.3L276.2,409.0L279.0,413.7L281.8,417.3L284.6,420.8L287.4,425.6L290.2,426.2L293.0,426.5L295.8,426.7L298.6,426.7L301.4,426.7L304.2,426.7L307.0,426.7L309.8,426.7L312.6,426.7L315.4,426.7L318.2,426.7L321.0,426.7L323.8,426.7L326.6,427.3L329.4,428.2L332.2,427.3L335.0,426.7L337.8,426.7L340.6,426.8L343.4,428.2L346.1,426.9L348.9,427.7L351.7,427.4L354.5,426.5L357.3,426.5L360.1,426.3L362.9,425.2L365.7,424.4L368.5,426.7L371.3,428.3L374.1,428.2L376.9,427.0L379.7,427.4L382.5,427.1L385.3,426.3L388.1,426.7L390.9,427.5L393.7,428.5L396.5,428.5L399.3,428.5L402.1,428.3L404.9,428.2L407.7,426.6L410.5,425.5L413.3,426.9L416.1,426.7L418.9,427.0L421.7,425.6L424.4,426.2L427.2,426.8L430.0,427.3L432.8,426.3L435.6,426.0L438.4,426.0L441.2,427.0L444.0,427.0L446.8,426.0L449.6,425.0L452.4,423.0L455.2,422.0L458.0,421.0L460.8,420.0L463.6,419.0L466.4,417.0L469.2,414.0L472.0,410.0L474.8,412.0L477.6,418.0L480.4,420.0L483.2,421.0L486.0,419.0L488.8,417.0L491.6,414.6L494.4,404.5L497.2,394.5L500.0,406.9L502.7,415.7L505.5,419.0L508.3,421.0L511.1,423.0L513.9,425.0L516.7,426.0L519.5,427.0L522.3,427.0L525.1,427.8L527.9,427.0L530.7,427.0L533.5,426.9L536.3,427.0L539.1,426.7L541.9,426.7L544.7,426.9L547.5,426.7L550.3,426.7L553.1,426.7L555.9,426.7L558.7,426.7L561.5,426.7L564.3,426.5L567.1,426.5L569.9,426.7L572.7,424.4L575.5,420.8L578.3,418.5L581.0,417.9L583.8,419.1L586.6,422.0L589.4,424.4L592.2,419.6L595.0,424.4L597.8,426.2L600.6,427.1L603.4,426.7L606.2,425.4L609.0,423.7L611.8,420.4L614.6,417.0L617.4,413.6L620.2,409.4L623.0,403.5L625.8,394.3L628.6,387.1L631.4,389.3L634.2,387.1L637.0,396.0L639.8,393.5L642.6,394.7L645.4,401.0L648.2,405.2L651.0,418.5L653.8,423.6L656.6,423.8L659.3,408.4L662.1,420.8L664.9,419.6L667.7,418.8L670.5,422.0L673.3,418.4L676.1,421.7L678.9,415.6L681.7,417.8L684.5,411.2L687.3,406.0L690.1,408.1L692.9,412.4L695.7,413.2L698.5,409.6L701.3,417.2L704.1,422.0L706.9,422.4L709.7,424.5L712.5,426.9L715.3,428.0L718.1,428.4L720.9,428.4L723.7,428.0L726.5,427.5L729.3,425.5L732.1,421.5L734.9,423.5"/>
<path class="l" stroke="#e377c2" d="M72.1,428.5L74.9,428.5L77.7,428.5L80.5,425.6L83.3,426.3L86.1,428.2L88.9,427.2L91.7,424.6L94.5,427.1L97.3,427.5L100.1,427.3L102.9,424.2L105.7,426.4L108.5,426.6L111.2,425.9L114.0,425.1L116.8,426.0L119.6,427.4L122.4,428.5L125.2,428.5L128.0,426.5L130.8,426.4L133.6,425.1L136.4,425.5L139.2,424.8L142.0,424.8L144.8,422.6L147.6,421.3L150.4,422.5L153.2,420.5L156.0,416.4L158.8,418.0L161.6,420.1L164.4,419.3L167.2,425.2L170.0,426.5L172.8,427.1L175.6,425.3L178.4,423.6L181.2,423.7L184.0,425.0L186.8,424.7L189.5,423.7L192.3,426.0L195.1,426.3L197.9,423.8L200.7,419.2L203.5,421.4L206.3,426.1L209.1,422.3L211.9,423.8L214.7,421.5L217.5,424.7L220.3,428.0L223.1,428.3L225.9,428.5L228.7,428.5L231.5,428.5L234.3,424.9L237.1,425.2L239.9,419.6L242.7,419.8L245.5,421.6L248.3,425.0L251.1,421.6L253.9,418.0L256.7,421.4L259.5,420.7L262.3,421.7L265.1,418.2L267.8,420.8L270.6,421.2L273.4,417.1L276.2,411.6L279.0,411.5L281.8,423.9L284.6,419.7L287.4,420.6L290.2,416.8L293.0,416.4L295.8,423.8L298.6,424.3L301.4,425.4L304.2,421.7L307.0,420.3L309.8,420.6L312.6,420.4L315.4,420.0L318.2,415.6L321.0,417.4L323.8,424.3L326.6,427.3L329.4,428.5L332.2,428.5L335.0,428.5L337.8,428.0L340.6,428.3L343.4,428.5L346.1,428.0L348.9,428.2L351.7,428.3L354.5,428.0L357.3,427.7L360.1,425.3L362.9,423.7L365.7,424.1L368.5,426.1L371.3,427.7L374.1,428.2L376.9,426.6L379.7,426.6L382.5,425.9L385.3,425.9L388.1,420.9L390.9,422.0L393.7,422.7L396.5,425.3L399.3,427.1L402.1,427.4L404.9,428.3L407.7,428.0L410.5,427.8L413.3,428.4L416.1,427.4L418.9,426.3L421.7,424.5L424.4,426.4L427.2,425.1L430.0,420.0L432.8,416.3L435.6,414.4L438.4,414.3L441.2,418.4L444.0,425.5L446.8,422.5L449.6,414.1L452.4,409.3L455.2,413.9L458.0,414.4L460.8,409.0L463.6,410.1L466.4,408.3L469.2,415.2L472.0,418.8L474.8,418.2L477.6,418.2L480.4,422.0L483.2,424.6L486.0,425.8L488.8,424.6L491.6,424.0L494.4,423.7L497.2,423.6L500.0,424.8L502.7,425.7L505.5,428.0L508.3,426.5L511.1,426.9L513.9,427.8L516.7,428.5L519.5,428.5L522.3,428.5L525.1,428.5L527.9,428.5L530.7,428.5L533.5,428.5L536.3,428.2L539.1,426.4L541.9,423.7L544.7,421.4L547.5,422.1L550.3,425.9L553.1,427.0L555.9,425.9L558.7,426.1L561.5,427.9L564.3,427.2L567.1,427.4L569.9,426.4L572.7,427.3L575.5,425.7L578.3,427.4L581.0,428.5L583.8,428.5L586.6,428.4L589.4,428.5L592.2,428.1L595.0,427.3L597.8,426.6L600.6,425.4L603.4,426.7L606.2,424.6L609.0,425.6L611.8,421.4L614.6,417.6L617.4,426.3L620.2,424.6L623.0,422.1L625.8,420.4L628.6,419.5L631.4,418.7L634.2,418.3L637.0,419.1L639.8,419.5L642.6,420.4L645.4,422.1L648.2,423.7L651.0,425.4L653.8,427.1L656.6,424.8L659.3,423.2L662.1,426.5L664.9,428.0L667.7,428.3L670.5,427.3L673.3,426.5L676.1,426.0L678.9,425.5L681.7,425.0L684.5,424.5L687.3,423.0L690.1,424.0L692.9,424.5L695.7,423.5L698.5,425.0L701.3,426.5L704.1,427.5L706.9,427.4L709.7,428.0L712.5,428.3L715.3,428.4L718.1,428.5L720.9,428.4L723.7,428.4L726.5,428.4L729.3,428.5L732.1,428.5L734.9,428.5"/>
<path class="l" stroke="#7f7f7f" d="M72.1,426.2L74.9,426.0L77.7,426.2L80.5,425.9L83.3,425.8L86.1,425.7L88.9,425.2L91.7,424.6L94.5,425.0L97.3,425.2L100.1,424.7L102.9,424.0L105.7,425.2L108.5,424.6L111.2,420.5L114.0,415.7L116.8,419.3L119.6,421.7L122.4,424.0L125.2,425.2L128.0,425.9L130.8,425.7L133.6,424.6L136.4,423.4L139.2,424.0L142.0,425.2L144.8,425.8L147.6,425.9L150.4,426.0L153.2,425.9L156.0,425.2L158.8,424.6L161.6,417.4L164.4,417.5L167.2,426.3L170.0,423.7L172.8,427.1L175.6,428.2L178.4,428.5L181.2,428.5L184.0,428.1L186.8,427.4L189.5,427.0L192.3,426.4L195.1,427.5L197.9,426.8L200.7,427.3L203.5,422.2L206.3,424.8L209.1,415.7L211.9,415.3L214.7,422.7L217.5,427.7L220.3,428.5L223.1,428.5L225.9,428.5L228.7,428.5L231.5,427.6L234.3,423.9L237.1,414.6L239.9,408.7L242.7,414.9L245.5,415.6L248.3,422.2L251.1,410.4L253.9,406.8L256.7,413.6L259.5,415.6L262.3,413.6L265.1,412.8L267.8,413.3L270.6,422.9L273.4,422.2L276.2,422.6L279.0,414.2L281.8,418.2L284.6,421.8L287.4,421.1L290.2,420.0L293.0,419.2L295.8,422.8L298.6,421.8L301.4,421.5L304.2,421.4L307.0,424.5L309.8,423.6L312.6,418.0L315.4,417.9L318.2,412.3L321.0,418.8L323.8,425.0L326.6,426.4L329.4,428.3L332.2,424.6L335.0,422.9L337.8,417.7L340.6,421.2L343.4,426.1L346.1,422.9L348.9,424.9L351.7,425.5L354.5,422.1L357.3,419.2L360.1,425.0L362.9,426.2L365.7,424.8L368.5,425.9L371.3,427.6L374.1,428.2L376.9,426.9L379.7,426.1L382.5,426.4L385.3,423.7L388.1,418.0L390.9,420.9L393.7,424.8L396.5,427.0L399.3,424.7L402.1,421.1L404.9,421.2L407.7,422.4L410.5,421.2L413.3,419.9L416.1,422.1L418.9,424.0L421.7,421.7L424.4,421.0L427.2,421.7L430.0,420.2L432.8,424.0L435.6,414.7L438.4,410.4L441.2,422.9L444.0,427.4L446.8,424.1L449.6,423.2L452.4,423.7L455.2,421.0L458.0,412.7L460.8,416.6L463.6,411.9L466.4,408.3L469.2,406.3L472.0,409.8L474.8,416.5L477.6,411.2L480.4,419.2L483.2,413.3L486.0,407.3L488.8,404.0L491.6,407.8L494.4,408.6L497.2,408.5L500.0,424.4L502.7,409.5L505.5,405.1L508.3,405.7L511.1,408.1L513.9,421.2L516.7,427.0L519.5,428.4L522.3,428.5L525.1,427.6L527.9,427.0L530.7,427.5L533.5,427.3L536.3,426.9L539.1,427.3L541.9,425.8L544.7,427.1L547.5,428.5L550.3,428.0L553.1,427.2L555.9,427.8L558.7,426.2L561.5,424.0L564.3,424.5L567.1,425.4L569.9,425.4L572.7,425.3L575.5,421.4L578.3,422.8L581.0,424.3L583.8,417.5L586.6,423.8L589.4,424.9L592.2,427.1L595.0,428.2L597.8,426.4L600.6,425.2L603.4,427.1L606.2,427.0L609.0,427.9L611.8,426.3L614.6,424.7L617.4,423.7L620.2,420.4L623.0,418.7L625.8,417.8L628.6,416.2L631.4,415.3L634.2,414.5L637.0,415.3L639.8,416.2L642.6,418.7L645.4,420.4L648.2,422.9L651.0,425.4L653.8,427.1L656.6,425.9L659.3,424.2L662.1,426.4L664.9,426.7L667.7,427.0L670.5,426.7L673.3,427.1L676.1,426.5L678.9,425.4L681.7,425.4L684.5,426.0L687.3,425.9L690.1,423.9L692.9,426.0L695.7,427.6L698.5,427.6L701.3,428.5L704.1,428.5L706.9,428.5L709.7,428.5L712.5,428.4L715.3,428.4L718.1,428.5L720.9,428.5L723.7,428.5L726.5,428.5L729.3,428.5L732.1,428.5L734.9,428.5"/>
<path class="l" stroke="#bcbd22" d="M72.1,425.8L74.9,425.8L77.7,425.9L80.5,425.8L83.3,425.7L86.1,425.2L88.9,420.5L91.7,412.2L94.5,408.7L97.3,415.7L100.1,420.5L102.9,419.3L105.7,422.8L108.5,420.5L111.2,414.6L114.0,407.5L116.8,397.4L119.6,398.0L122.4,405.1L125.2,408.7L128.0,420.5L130.8,425.2L133.6,424.0L136.4,420.5L139.2,414.6L142.0,408.7L144.8,407.5L147.6,412.2L150.4,419.3L153.2,425.2L156.0,425.8L158.8,422.8L161.6,406.3L164.4,409.8L167.2,415.7L170.0,421.7L172.8,424.0L175.6,424.6L178.4,422.8L181.2,414.6L184.0,418.1L186.8,420.5L189.5,424.0L192.3,425.8L195.1,426.4L197.9,425.8L200.7,422.8L203.5,420.5L206.3,414.6L209.1,408.7L211.9,399.2L214.7,414.6L217.5,420.5L220.3,424.0L223.1,425.8L225.9,427.6L228.7,416.9L231.5,402.7L234.3,396.2L237.1,405.1L239.9,402.7L242.7,400.4L245.5,406.3L248.3,418.1L251.1,405.5L253.9,398.4L256.7,397.2L259.5,400.7L262.3,397.8L265.1,399.5L267.8,405.5L270.6,412.6L273.4,414.9L276.2,418.5L279.0,419.6L281.8,418.5L284.6,417.3L287.4,413.7L290.2,412.6L293.0,414.9L295.8,417.3L298.6,413.7L301.4,408.4L304.2,410.2L307.0,416.1L309.8,422.0L312.6,412.6L315.4,401.9L318.2,396.6L321.0,398.4L323.8,401.9L326.6,424.4L329.4,428.2L332.2,426.2L335.0,424.4L337.8,422.0L340.6,424.6L343.4,425.8L346.1,426.4L348.9,427.0L351.7,427.2L354.5,427.0L357.3,425.8L360.1,423.4L362.9,421.1L365.7,418.7L368.5,420.5L371.3,424.6L374.1,427.9L376.9,425.8L379.7,423.4L382.5,422.3L385.3,419.9L388.1,411.0L390.9,419.9L393.7,423.4L396.5,424.6L399.3,425.2L402.1,425.8L404.9,426.4L407.7,424.6L410.5,421.1L413.3,422.3L416.1,423.4L418.9,424.6L421.7,423.4L424.4,419.9L427.2,415.2L430.0,420.0L432.8,423.6L435.6,406.3L438.4,406.9L441.2,424.0L444.0,426.4L446.8,424.0L449.6,414.6L452.4,408.7L455.2,402.7L458.0,402.1L460.8,405.7L463.6,408.7L466.4,407.5L469.2,405.1L472.0,402.7L474.8,400.4L477.6,401.6L480.4,407.5L483.2,414.6L486.0,412.2L488.8,415.7L491.6,413.4L494.4,416.9L497.2,418.1L500.0,415.7L502.7,418.1L505.5,416.9L508.3,413.4L511.1,419.3L513.9,421.7L516.7,424.0L519.5,425.8L522.3,426.4L525.1,426.0L527.9,426.7L530.7,427.0L533.5,426.7L536.3,426.5L539.1,425.6L541.9,422.0L544.7,414.9L547.5,409.6L550.3,412.0L553.1,416.1L555.9,420.8L558.7,413.7L561.5,413.1L564.3,407.8L567.1,406.1L569.9,409.0L572.7,413.7L575.5,419.6L578.3,423.2L581.0,425.6L583.8,426.2L586.6,425.6L589.4,426.2L592.2,426.7L595.0,426.2L597.8,425.0L600.6,426.7L603.4,425.4L606.2,421.2L609.0,413.6L611.8,412.0L614.6,406.9L617.4,400.6L620.2,405.2L623.0,404.4L625.8,402.7L628.6,405.2L631.4,401.0L634.2,401.0L637.0,401.9L639.8,404.4L642.6,405.2L645.4,403.5L648.2,400.2L651.0,410.3L653.8,419.5L656.6,425.0L659.3,425.0L662.1,423.0L664.9,422.5L667.7,424.0L670.5,426.5L673.3,427.5L676.1,425.5L678.9,426.8L681.7,427.1L684.5,424.8L687.3,424.7L690.1,426.9L692.9,424.0L695.7,424.3L698.5,424.5L701.3,426.9L704.1,427.5L706.9,427.4L709.7,427.7L712.5,427.0L715.3,427.7L718.1,428.3L720.9,428.3L723.7,427.5L726.5,423.5L729.3,422.7L732.1,425.0L734.9,426.0"/>
<path class="l" stroke="#17becf" d="M72.1,420.5L74.9,421.7L77.7,422.8L80.5,419.3L83.3,414.0L86.1,412.8L88.9,403.9L91.7,396.2L94.5,407.5L97.3,410.4L100.1,409.2L102.9,406.3L105.7,414.0L108.5,402.7L111.2,392.1L114.0,392.3L116.8,402.7L119.6,412.2L122.4,418.1L125.2,420.5L128.0,422.8L130.8,414.6L133.6,399.8L136.4,397.4L139.2,408.7L142.0,418.1L144.8,421.7L147.6,424.0L150.4,425.2L153.2,424.0L156.0,418.1L158.8,403.9L161.6,414.6L164.4,418.1L167.2,420.5L170.0,422.8L172.8,424.0L175.6,424.6L178.4,425.2L181.2,422.8L184.0,420.5L186.8,418.1L189.5,422.8L192.3,425.2L195.1,426.4L197.9,425.8L200.7,422.8L203.5,418.1L206.3,402.7L209.1,393.3L211.9,400.4L214.7,412.2L217.5,419.3L220.3,422.8L223.1,425.2L225.9,427.6L228.7,422.8L231.5,414.6L234.3,405.1L237.1,408.7L239.9,403.9L242.7,408.7L245.5,412.2L248.3,420.5L251.1,391.9L253.9,393.6L256.7,397.2L259.5,398.4L262.3,397.2L265.1,393.6L267.8,400.7L270.6,409.0L273.4,412.6L276.2,414.9L279.0,416.1L281.8,419.6L284.6,420.8L287.4,416.1L290.2,411.4L293.0,409.0L295.8,413.7L298.6,417.3L301.4,420.8L304.2,423.2L307.0,424.4L309.8,422.0L312.6,409.0L315.4,393.0L318.2,413.7L321.0,418.5L323.8,422.0L326.6,426.7L329.4,428.2L332.2,425.6L335.0,420.8L337.8,414.9L340.6,419.9L343.4,421.1L346.1,425.2L348.9,426.4L351.7,426.7L354.5,423.4L357.3,413.4L360.1,416.3L362.9,423.4L365.7,422.8L368.5,423.4L371.3,426.4L374.1,427.9L376.9,425.8L379.7,422.3L382.5,419.9L385.3,423.4L388.1,424.6L390.9,425.8L393.7,426.4L396.5,425.8L399.3,424.6L402.1,423.4L404.9,415.7L407.7,418.7L410.5,421.1L413.3,419.9L416.1,422.3L418.9,423.4L421.7,422.8L424.4,421.1L427.2,418.7L430.0,417.9L432.8,414.3L435.6,420.5L438.4,421.7L441.2,425.8L444.0,426.4L446.8,424.0L449.6,419.3L452.4,414.6L455.2,413.4L458.0,415.2L460.8,410.4L463.6,407.5L466.4,409.8L469.2,404.5L472.0,406.3L474.8,402.7L477.6,401.0L480.4,408.7L483.2,412.2L486.0,402.7L488.8,406.3L491.6,393.0L494.4,405.7L497.2,403.9L500.0,408.7L502.7,404.5L505.5,408.7L508.3,405.1L511.1,408.1L513.9,403.9L516.7,414.6L519.5,422.8L522.3,425.2L525.1,423.7L527.9,425.0L530.7,426.2L533.5,425.6L536.3,422.0L539.1,415.5L541.9,420.8L544.7,419.6L547.5,418.5L550.3,417.3L553.1,420.8L555.9,425.0L558.7,424.4L561.5,423.2L564.3,422.0L567.1,419.6L569.9,420.8L572.7,423.2L575.5,425.0L578.3,426.2L581.0,426.7L583.8,426.2L586.6,425.6L589.4,426.2L592.2,426.7L595.0,426.2L597.8,425.6L600.6,427.5L603.4,425.8L606.2,420.4L609.0,413.6L611.8,411.1L614.6,406.9L617.4,405.2L620.2,403.5L623.0,400.2L625.8,396.8L628.6,399.3L631.4,396.0L634.2,393.9L637.0,395.6L639.8,396.8L642.6,401.9L645.4,404.4L648.2,405.2L651.0,413.6L653.8,420.4L656.6,415.3L659.3,422.9L662.1,426.3L664.9,427.4L667.7,427.9L670.5,427.9L673.3,428.1L676.1,427.9L678.9,427.4L681.7,426.6L684.5,425.4L687.3,425.3L690.1,424.8L692.9,426.4L695.7,426.6L698.5,427.7L701.3,428.3L704.1,428.4L706.9,428.4L709.7,428.4L712.5,428.2L715.3,428.3L718.1,428.5L720.9,428.3L723.7,428.0L726.5,427.7L729.3,427.3L732.1,427.5L734.9,427.7"/>
<path class="l" stroke="#1f77b4" d="M72.1,416.9L74.9,418.7L77.7,420.5L80.5,422.8L83.3,416.9L86.1,414.6L88.9,412.2L91.7,408.7L94.5,412.2L97.3,409.8L100.1,406.9L102.9,399.2L105.7,411.6L108.5,413.4L111.2,402.7L114.0,396.2L116.8,405.1L119.6,415.7L122.4,420.5L125.2,424.0L128.0,425.2L130.8,419.3L133.6,408.7L136.4,401.6L139.2,402.7L142.0,414.6L144.8,420.5L147.6,422.8L150.4,425.2L153.2,425.8L156.0,422.8L158.8,414.6L161.6,412.2L164.4,416.9L167.2,419.3L170.0,422.8L172.8,424.0L175.6,425.2L178.4,424.6L181.2,420.5L184.0,418.1L186.8,413.4L189.5,418.1L192.3,422.8L195.1,425.8L197.9,425.2L200.7,422.8L203.5,416.9L206.3,408.7L209.1,400.4L211.9,406.3L214.7,414.6L217.5,416.9L220.3,420.5L223.1,424.0L225.9,427.6L228.7,422.8L231.5,415.7L234.3,408.7L237.1,406.3L239.9,408.7L242.7,405.1L245.5,400.4L248.3,408.7L251.1,403.1L253.9,397.2L256.7,401.9L259.5,404.3L262.3,399.5L265.1,397.2L267.8,401.9L270.6,400.1L273.4,399.5L276.2,397.8L279.0,409.0L281.8,416.1L284.6,419.6L287.4,420.8L290.2,419.6L293.0,417.3L295.8,418.5L298.6,416.1L301.4,419.6L304.2,420.8L307.0,423.2L309.8,420.8L312.6,411.4L315.4,397.2L318.2,416.1L321.0,420.8L323.8,423.2L326.6,426.7L329.4,428.2L332.2,424.4L335.0,419.6L337.8,413.1L340.6,421.1L343.4,423.4L346.1,425.8L348.9,427.0L351.7,427.2L354.5,426.4L357.3,424.6L360.1,423.4L362.9,425.2L365.7,425.8L368.5,425.2L371.3,426.4L374.1,427.9L376.9,426.4L379.7,424.6L382.5,418.7L385.3,423.4L388.1,424.6L390.9,425.2L393.7,426.4L396.5,425.8L399.3,425.2L402.1,424.6L404.9,423.4L407.7,421.1L410.5,418.7L413.3,421.1L416.1,424.6L418.9,419.9L421.7,423.4L424.4,419.9L427.2,417.5L430.0,419.6L432.8,424.7L435.6,424.0L438.4,422.8L441.2,425.8L444.0,426.4L446.8,424.6L449.6,420.5L452.4,412.2L455.2,408.7L458.0,410.4L460.8,405.1L463.6,402.7L466.4,406.9L469.2,400.4L472.0,403.9L474.8,401.6L477.6,402.7L480.4,405.7L483.2,405.1L486.0,397.4L488.8,403.9L491.6,395.1L494.4,402.7L497.2,399.2L500.0,405.1L502.7,399.0L505.5,404.5L508.3,399.2L511.1,406.3L513.9,412.8L516.7,420.5L519.5,424.6L522.3,422.8L525.1,423.7L527.9,423.2L530.7,426.2L533.5,426.2L536.3,424.4L539.1,420.8L541.9,422.0L544.7,419.6L547.5,419.1L550.3,416.7L553.1,422.0L555.9,425.6L558.7,425.0L561.5,423.2L564.3,422.0L567.1,420.8L569.9,422.0L572.7,423.8L575.5,425.6L578.3,426.7L581.0,427.3L583.8,426.7L586.6,426.2L589.4,426.7L592.2,427.0L595.0,426.7L597.8,426.2L600.6,427.5L603.4,425.4L606.2,419.5L609.0,412.0L611.8,408.6L614.6,403.5L617.4,410.3L620.2,407.8L623.0,401.0L625.8,395.1L628.6,401.0L631.4,398.1L634.2,396.8L637.0,398.5L639.8,399.3L642.6,403.5L645.4,402.7L648.2,408.6L651.0,415.3L653.8,422.1L656.6,424.6L659.3,421.2L662.1,425.4L664.9,427.7L667.7,427.8L670.5,427.1L673.3,426.8L676.1,426.9L678.9,427.6L681.7,427.9L684.5,428.5L687.3,428.5L690.1,428.5L692.9,428.5L695.7,428.5L698.5,428.4L701.3,428.5L704.1,428.4L706.9,428.4L709.7,428.4L712.5,428.3L715.3,428.4L718.1,428.5L720.9,428.4L723.7,428.2L726.5,428.0L729.3,427.8L732.1,427.2L734.9,427.1"/>
<path class="l" stroke="#ff7f0e" d="M72.1,422.8L74.9,424.0L77.7,424.6L80.5,422.8L83.3,420.5L86.1,416.9L88.9,412.2L91.7,405.1L94.5,407.5L97.3,412.2L100.1,408.7L102.9,410.4L105.7,419.3L108.5,414.6L111.2,403.9L114.0,405.7L116.8,405.1L119.6,414.6L122.4,420.5L125.2,424.0L128.0,425.8L130.8,420.5L133.6,412.2L136.4,405.1L139.2,409.8L142.0,418.1L144.8,422.8L147.6,422.8L150.4,424.0L153.2,425.8L156.0,424.0L158.8,418.1L161.6,411.0L164.4,413.4L167.2,419.3L170.0,422.8L172.8,423.4L175.6,424.6L178.4,425.2L181.2,421.7L184.0,419.3L186.8,415.7L189.5,420.5L192.3,424.0L195.1,426.2L197.9,425.2L200.7,421.7L203.5,415.7L206.3,411.0L209.1,406.3L211.9,408.7L214.7,415.7L217.5,419.3L220.3,421.7L223.1,425.2L225.9,427.6L228.7,420.5L231.5,413.4L234.3,407.5L237.1,414.6L239.9,407.5L242.7,412.2L245.5,408.7L248.3,418.1L251.1,404.3L253.9,406.6L256.7,407.8L259.5,409.0L262.3,407.2L265.1,410.2L267.8,407.8L270.6,412.6L273.4,410.2L276.2,414.9L279.0,418.5L281.8,420.8L284.6,419.6L287.4,417.3L290.2,414.9L293.0,416.1L295.8,414.9L298.6,418.5L301.4,419.6L304.2,417.3L307.0,420.8L309.8,422.0L312.6,416.1L315.4,405.5L318.2,412.6L321.0,414.9L323.8,416.1L326.6,426.2L329.4,428.2L332.2,425.6L335.0,422.0L337.8,417.3L340.6,417.5L343.4,419.9L346.1,424.6L348.9,426.4L351.7,427.0L354.5,425.8L357.3,421.1L360.1,417.5L362.9,423.4L365.7,425.8L368.5,422.3L371.3,425.8L374.1,427.6L376.9,425.8L379.7,423.4L382.5,424.6L385.3,422.3L388.1,421.1L390.9,423.4L393.7,425.8L396.5,424.6L399.3,423.4L402.1,425.8L404.9,424.6L407.7,422.3L410.5,419.9L413.3,416.9L416.1,423.4L418.9,424.6L421.7,422.3L424.4,419.9L427.2,416.3L430.0,422.3L432.8,417.6L435.6,418.1L438.4,420.5L441.2,426.4L444.0,426.6L446.8,424.0L449.6,420.5L452.4,415.7L455.2,412.8L458.0,414.0L460.8,410.4L463.6,413.4L466.4,411.0L469.2,409.2L472.0,408.1L474.8,406.9L477.6,406.3L480.4,410.4L483.2,408.1L486.0,406.3L488.8,410.4L491.6,403.9L494.4,412.8L497.2,411.0L500.0,412.8L502.7,409.8L505.5,408.1L508.3,408.7L511.1,412.8L513.9,410.4L516.7,419.3L519.5,424.0L522.3,425.8L525.1,425.9L527.9,426.7L530.7,426.7L533.5,426.2L536.3,423.2L539.1,420.2L541.9,419.6L544.7,417.9L547.5,417.3L550.3,417.9L553.1,422.0L555.9,425.6L558.7,424.4L561.5,422.0L564.3,419.6L567.1,416.7L569.9,417.9L572.7,420.8L575.5,425.6L578.3,426.7L581.0,427.3L583.8,426.7L586.6,426.2L589.4,426.7L592.2,427.0L595.0,426.7L597.8,426.2L600.6,427.9L603.4,427.1L606.2,423.7L609.0,419.5L611.8,415.3L614.6,416.2L617.4,412.0L620.2,408.6L623.0,406.9L625.8,404.4L628.6,408.6L631.4,404.4L634.2,404.8L637.0,405.2L639.8,406.1L642.6,408.6L645.4,411.1L648.2,413.6L651.0,417.8L653.8,423.7L656.6,425.4L659.3,426.3L662.1,427.1L664.9,428.5L667.7,428.5L670.5,428.3L673.3,428.3L676.1,428.3L678.9,428.2L681.7,428.0L684.5,426.6L687.3,425.4L690.1,423.9L692.9,424.8L695.7,425.1L698.5,423.0L701.3,425.5L704.1,426.8L706.9,427.4L709.7,427.9L712.5,427.7L715.3,428.2L718.1,428.4L720.9,428.4L723.7,428.3L726.5,428.3L729.3,428.4L732.1,428.4L734.9,428.5"/>
<path class="l" stroke="#2ca02c" d="M72.1,426.6L74.9,426.6L77.7,426.7L80.5,426.6L83.3,426.5L86.1,426.6L88.9,426.4L91.7,426.3L94.5,426.4L97.3,426.5L100.1,426.4L102.9,426.3L105.7,426.5L108.5,426.4L111.2,426.2L114.0,426.0L116.8,426.2L119.6,426.3L122.4,426.5L125.2,426.6L128.0,426.7L130.8,426.6L133.6,425.2L136.4,424.7L139.2,425.0L142.0,426.2L144.8,426.6L147.6,426.7L150.4,426.7L153.2,426.6L156.0,426.4L158.8,426.3L161.6,422.8L164.4,424.6L167.2,425.8L170.0,426.4L172.8,426.6L175.6,426.6L178.4,426.7L181.2,426.4L184.0,425.8L186.8,426.4L189.5,426.6L192.3,426.7L195.1,426.7L197.9,426.6L200.7,426.4L203.5,426.2L206.3,425.2L209.1,424.6L211.9,424.6L214.7,425.2L217.5,425.8L220.3,426.4L223.1,426.7L225.9,427.6L228.7,427.0L231.5,426.4L234.3,426.2L237.1,426.0L239.9,425.9L242.7,425.8L245.5,425.2L248.3,425.0L251.1,419.6L253.9,413.7L256.7,414.3L259.5,414.3L262.3,414.9L265.1,414.3L267.8,414.9L270.6,420.8L273.4,424.4L276.2,425.6L279.0,426.2L281.8,426.7L284.6,427.0L287.4,427.1L290.2,427.1L293.0,427.2L295.8,427.2L298.6,427.3L301.4,427.3L304.2,427.3L307.0,427.3L309.8,427.2L312.6,426.7L315.4,426.2L318.2,426.5L321.0,426.7L323.8,427.0L326.6,427.7L329.4,428.2L332.2,427.7L335.0,427.3L337.8,427.2L340.6,421.2L343.4,423.8L346.1,423.9L348.9,426.7L351.7,427.6L354.5,426.9L357.3,424.8L360.1,428.0L362.9,428.5L365.7,427.9L368.5,427.4L371.3,427.6L374.1,428.2L376.9,427.1L379.7,425.4L382.5,425.7L385.3,424.7L388.1,424.9L390.9,427.3L393.7,427.4L396.5,427.8L399.3,428.1L402.1,426.5L404.9,423.2L407.7,424.4L410.5,424.9L413.3,425.1L416.1,426.7L418.9,428.0L421.7,426.4L424.4,425.7L427.2,426.0L430.0,426.5L432.8,426.7L435.6,421.9L438.4,421.8L441.2,425.6L444.0,427.9L446.8,426.3L449.6,423.4L452.4,420.5L455.2,425.0L458.0,425.8L460.8,424.6L463.6,423.8L466.4,424.9L469.2,420.3L472.0,419.7L474.8,421.4L477.6,420.6L480.4,424.7L483.2,426.8L486.0,428.0L488.8,428.5L491.6,426.0L494.4,426.5L497.2,426.1L500.0,427.9L502.7,426.1L505.5,425.3L508.3,420.1L511.1,422.6L513.9,427.7L516.7,427.9L519.5,428.0L522.3,427.1L525.1,426.9L527.9,427.3L530.7,427.3L533.5,427.3L536.3,427.3L539.1,427.3L541.9,427.3L544.7,427.3L547.5,427.3L550.3,427.3L553.1,427.3L555.9,427.3L558.7,426.2L561.5,424.4L564.3,422.6L567.1,423.2L569.9,425.0L572.7,426.7L575.5,427.5L578.3,427.5L581.0,427.5L583.8,427.5L586.6,427.5L589.4,427.5L592.2,427.5L595.0,427.5L597.8,427.5L600.6,427.9L603.4,427.8L606.2,427.1L609.0,425.8L611.8,426.3L614.6,425.8L617.4,425.4L620.2,424.6L623.0,422.9L625.8,422.1L628.6,421.2L631.4,422.1L634.2,421.2L637.0,421.2L639.8,421.6L642.6,425.8L645.4,424.6L648.2,425.8L651.0,427.1L653.8,427.9L656.6,428.1L659.3,428.1L662.1,428.1L664.9,427.5L667.7,427.9L670.5,427.9L673.3,427.7L676.1,427.6L678.9,426.7L681.7,426.1L684.5,427.0L687.3,427.0L690.1,427.2L692.9,426.7L695.7,426.2L698.5,425.6L701.3,426.4L704.1,427.6L706.9,428.1L709.7,428.4L712.5,428.5L715.3,428.5L718.1,428.5L720.9,428.5L723.7,428.5L726.5,428.4L729.3,428.1L732.1,428.2L734.9,428.1"/>
<path class="l" stroke="#d62728" d="M72.1,425.2L74.9,425.8L77.7,425.2L80.5,424.6L83.3,425.8L86.1,424.0L88.9,421.7L91.7,418.1L94.5,416.9L97.3,418.7L100.1,413.4L102.9,414.6L105.7,420.5L108.5,418.1L111.2,411.0L114.0,403.9L116.8,402.7L119.6,401.0L122.4,408.7L125.2,418.1L128.0,425.2L130.8,425.8L133.6,420.5L136.4,414.6L139.2,403.9L142.0,406.9L144.8,410.4L147.6,419.3L150.4,422.8L153.2,424.0L156.0,420.5L158.8,408.7L161.6,401.6L164.4,408.7L167.2,412.2L170.0,420.5L172.8,422.3L175.6,422.8L178.4,425.8L181.2,420.5L184.0,416.3L186.8,419.3L189.5,422.8L192.3,425.2L195.1,426.4L197.9,425.2L200.7,420.5L203.5,412.2L206.3,420.5L209.1,416.9L211.9,414.6L214.7,419.3L217.5,420.5L220.3,424.0L223.1,425.8L225.9,427.6L228.7,418.1L231.5,405.1L234.3,398.6L237.1,403.9L239.9,401.6L242.7,399.2L245.5,398.6L248.3,414.6L251.1,396.6L253.9,396.0L256.7,396.6L259.5,395.8L262.3,396.2L265.1,403.1L267.8,398.4L270.6,420.8L273.4,416.1L276.2,417.3L279.0,422.0L281.8,424.4L284.6,417.3L287.4,419.6L290.2,414.9L293.0,418.5L295.8,417.3L298.6,420.8L301.4,416.1L304.2,412.6L307.0,419.6L309.8,420.8L312.6,414.9L315.4,406.6L318.2,414.9L321.0,405.5L323.8,410.2L326.6,426.2L329.4,428.2L332.2,426.7L335.0,426.2L337.8,424.4L340.6,421.1L343.4,423.4L346.1,425.8L348.9,426.7L351.7,427.0L354.5,426.4L357.3,423.4L360.1,419.9L362.9,416.9L365.7,415.7L368.5,419.9L371.3,424.6L374.1,427.9L376.9,424.6L379.7,417.5L382.5,423.4L385.3,422.3L388.1,418.7L390.9,421.1L393.7,423.4L396.5,424.6L399.3,421.1L402.1,419.3L404.9,425.8L407.7,425.2L410.5,425.8L413.3,423.4L416.1,425.8L418.9,426.4L421.7,425.8L424.4,424.6L427.2,412.8L430.0,422.8L432.8,423.9L435.6,409.8L438.4,414.6L441.2,425.2L444.0,425.8L446.8,422.8L449.6,416.9L452.4,403.3L455.2,410.4L458.0,404.5L460.8,407.5L463.6,409.2L466.4,406.3L469.2,401.6L472.0,397.4L474.8,399.8L477.6,399.2L480.4,399.0L483.2,408.7L486.0,419.9L488.8,422.8L491.6,416.9L494.4,412.2L497.2,415.7L500.0,417.5L502.7,413.4L505.5,410.4L508.3,409.8L511.1,416.3L513.9,421.7L516.7,422.8L519.5,425.2L522.3,426.4L525.1,423.9L527.9,426.2L530.7,426.7L533.5,426.2L536.3,425.6L539.1,424.4L541.9,418.5L544.7,412.6L547.5,414.3L550.3,416.1L553.1,419.6L555.9,420.8L558.7,414.9L561.5,412.6L564.3,407.8L567.1,404.3L569.9,407.2L572.7,411.4L575.5,417.3L578.3,420.8L581.0,426.2L583.8,408.4L586.6,420.8L589.4,426.2L592.2,427.3L595.0,426.7L597.8,425.6L600.6,427.1L603.4,423.7L606.2,416.2L609.0,407.8L611.8,402.3L614.6,400.6L617.4,397.2L620.2,402.7L623.0,398.9L625.8,399.8L628.6,400.2L631.4,395.1L634.2,395.6L637.0,396.4L639.8,405.2L642.6,407.8L645.4,412.8L648.2,417.8L651.0,422.1L653.8,425.4L656.6,426.0L659.3,424.0L662.1,422.0L664.9,421.4L667.7,421.6L670.5,425.0L673.3,427.0L676.1,428.2L678.9,427.3L681.7,426.4L684.5,426.8L687.3,426.0L690.1,425.3L692.9,426.6L695.7,426.9L698.5,428.0L701.3,428.5L704.1,428.5L706.9,428.5L709.7,428.5L712.5,428.5L715.3,428.4L718.1,428.4L720.9,428.4L723.7,428.0L726.5,427.0L729.3,426.0L732.1,425.5L734.9,424.0"/>
<path class="l" stroke="#9467bd" d="M72.1,424.0L74.9,413.4L77.7,412.2L80.5,415.7L83.3,425.2L86.1,422.8L88.9,416.9L91.7,419.3L94.5,422.8L97.3,424.0L100.1,420.5L102.9,414.6L105.7,421.7L108.5,420.5L111.2,415.7L114.0,412.8L116.8,416.9L119.6,418.7L122.4,419.3L125.2,425.2L128.0,426.4L130.8,422.8L133.6,415.7L136.4,419.3L139.2,420.5L142.0,425.2L144.8,426.4L147.6,425.8L150.4,425.2L153.2,422.8L156.0,415.7L158.8,416.9L161.6,416.9L164.4,420.5L167.2,422.8L170.0,424.6L172.8,425.2L175.6,424.6L178.4,426.4L181.2,424.6L184.0,422.8L186.8,425.2L189.5,425.8L192.3,426.4L195.1,425.8L197.9,426.4L200.7,424.6L203.5,422.8L206.3,416.9L209.1,414.0L211.9,415.7L214.7,409.8L217.5,413.4L220.3,415.7L223.1,422.8L225.9,427.6L228.7,425.8L231.5,425.2L234.3,424.0L237.1,422.8L239.9,420.5L242.7,421.7L245.5,415.7L248.3,420.5L251.1,409.0L253.9,426.7L256.7,426.2L259.5,409.0L262.3,407.8L265.1,411.4L267.8,406.6L270.6,413.7L273.4,413.1L276.2,414.9L279.0,417.3L281.8,420.8L284.6,422.0L287.4,423.2L290.2,423.8L293.0,423.2L295.8,424.4L298.6,426.2L301.4,426.7L304.2,426.7L307.0,426.7L309.8,426.2L312.6,423.2L315.4,418.5L318.2,420.8L321.0,424.4L323.8,425.6L326.6,427.3L329.4,428.2L332.2,426.7L335.0,426.2L337.8,425.6L340.6,426.4L343.4,427.0L346.1,427.0L348.9,427.2L351.7,427.3L354.5,427.2L357.3,426.4L360.1,422.3L362.9,425.8L365.7,427.0L368.5,427.0L371.3,427.2L374.1,427.9L376.9,427.0L379.7,426.4L382.5,425.8L385.3,426.4L388.1,425.8L390.9,426.4L393.7,427.0L396.5,426.7L399.3,426.4L402.1,427.0L404.9,425.8L407.7,421.1L410.5,424.6L413.3,423.4L416.1,425.8L418.9,425.2L421.7,425.8L424.4,425.2L427.2,424.0L430.0,422.6L432.8,414.5L435.6,420.5L438.4,422.8L441.2,422.3L444.0,426.4L446.8,424.6L449.6,424.0L452.4,422.8L455.2,421.7L458.0,420.5L460.8,422.3L463.6,422.8L466.4,424.0L469.2,424.0L472.0,421.7L474.8,415.2L477.6,418.1L480.4,409.2L483.2,419.3L486.0,411.6L488.8,424.0L491.6,421.7L494.4,416.9L497.2,419.3L500.0,423.4L502.7,421.7L505.5,418.1L508.3,414.6L511.1,424.0L513.9,424.6L516.7,425.8L519.5,426.4L522.3,426.6L525.1,423.7L527.9,426.7L530.7,426.2L533.5,425.6L536.3,426.2L539.1,425.6L541.9,426.7L544.7,426.2L547.5,425.6L550.3,425.0L553.1,425.6L555.9,426.7L558.7,424.4L561.5,419.6L564.3,419.1L567.1,424.4L569.9,426.2L572.7,426.7L575.5,426.2L578.3,425.6L581.0,427.3L583.8,425.6L586.6,426.7L589.4,417.9L592.2,425.6L595.0,424.4L597.8,426.7L600.6,412.8L603.4,420.4L606.2,419.5L609.0,415.3L611.8,418.7L614.6,416.2L617.4,417.8L620.2,414.5L623.0,410.3L625.8,408.6L628.6,412.8L631.4,407.8L634.2,408.6L637.0,407.8L639.8,408.2L642.6,408.6L645.4,415.3L648.2,418.7L651.0,422.1L653.8,425.4L656.6,426.3L659.3,427.1L662.1,426.7L664.9,426.7L667.7,427.4L670.5,426.9L673.3,427.1L676.1,427.1L678.9,426.6L681.7,427.7L684.5,428.5L687.3,428.5L690.1,428.0L692.9,427.9L695.7,427.6L698.5,427.4L701.3,427.2L704.1,427.6L706.9,428.0L709.7,428.2L712.5,427.4L715.3,428.0L718.1,428.4L720.9,428.3L723.7,428.1L726.5,428.0L729.3,428.1L732.1,428.3L734.9,428.3"/>
<path class="l" style="stroke-width:1.7" stroke="#333" d="M72.1,324.9L74.9,326.4L77.7,323.6L80.5,336.6L83.3,339.2L86.1,306.3L88.9,304.8L91.7,255.4L94.5,280.0L97.3,306.9L100.1,281.0L102.9,231.6L105.7,336.8L108.5,327.5L111.2,225.0L114.0,185.0L116.8,185.0L119.6,228.0L122.4,270.0L125.2,318.0L128.0,393.7L130.8,375.2L133.6,290.0L136.4,218.5L139.2,226.8L142.0,285.0L144.8,359.0L147.6,375.2L150.4,401.2L153.2,407.3L156.0,335.0L158.8,259.7L161.6,254.3L164.4,290.0L167.2,336.2L170.0,370.9L172.8,386.0L175.6,401.2L178.4,385.0L181.2,366.0L184.0,348.0L186.8,329.7L189.5,382.8L192.3,390.4L195.1,418.6L197.9,420.3L200.7,412.1L203.5,360.0L206.3,270.0L209.1,149.3L211.9,165.6L214.7,232.6L217.5,247.8L220.3,272.7L223.1,360.0L225.9,422.9L228.7,340.0L231.5,295.0L234.3,228.3L237.1,270.6L239.9,216.4L242.7,238.0L245.5,180.0L248.3,305.0L251.1,150.0L253.9,79.3L256.7,120.0L259.5,98.0L262.3,77.3L265.1,108.8L267.8,96.2L270.6,244.6L273.4,215.9L276.2,229.4L279.0,290.0L281.8,356.8L284.6,336.2L287.4,328.6L290.2,285.3L293.0,316.7L295.8,311.9L298.6,339.4L301.4,319.9L304.2,337.3L307.0,362.2L309.8,393.0L312.6,300.0L315.4,216.4L318.2,220.7L321.0,268.0L323.8,310.0L326.6,385.0L329.4,427.7L332.2,405.0L335.0,370.0L337.8,338.4L340.6,341.0L343.4,366.6L346.1,404.5L348.9,419.7L351.7,420.3L354.5,415.3L357.3,377.4L360.1,340.5L362.9,376.3L365.7,382.4L368.5,385.0L371.3,396.9L374.1,427.7L376.9,413.2L379.7,370.9L382.5,371.5L385.3,381.7L388.1,354.0L390.9,381.7L393.7,406.7L396.5,406.7L399.3,368.7L402.1,389.3L404.9,379.6L407.7,385.0L410.5,381.7L413.3,357.2L416.1,399.1L418.9,392.1L421.7,400.2L424.4,360.0L427.2,332.9L430.0,310.2L432.8,297.0L435.6,292.0L438.4,287.5L441.2,370.0L444.0,417.5L446.8,395.8L449.6,338.4L452.4,258.8L455.2,265.8L458.0,262.5L460.8,244.1L463.6,254.9L466.4,277.3L469.2,234.0L472.0,164.7L474.8,155.0L477.6,146.3L480.4,197.2L483.2,218.9L486.0,247.1L488.8,299.0L491.6,205.9L494.4,248.3L497.2,247.0L500.0,278.1L502.7,271.2L505.5,285.9L508.3,247.5L511.1,298.0L513.9,243.3L516.7,330.0L519.5,403.4L522.3,416.4L525.1,406.0L527.9,418.6L530.7,421.4L533.5,415.3L536.3,407.7L539.1,387.8L541.9,388.7L544.7,357.9L547.5,337.3L550.3,344.4L553.1,379.6L555.9,403.0L558.7,336.2L561.5,342.3L564.3,310.2L567.1,297.6L569.9,304.1L572.7,338.4L575.5,369.8L578.3,381.7L581.0,406.7L583.8,354.2L586.6,352.5L589.4,395.2L592.2,400.2L595.0,415.8L597.8,403.4L600.6,389.3L603.4,402.3L606.2,349.0L609.0,278.0L611.8,267.0L614.6,257.2L617.4,258.9L620.2,250.7L623.0,156.2L625.8,149.7L628.6,115.0L631.4,59.1L634.2,71.7L637.0,84.7L639.8,99.9L642.6,173.6L645.4,179.7L648.2,246.0L651.0,310.0L653.8,379.0L656.6,364.8L659.3,375.2L662.1,405.6L664.9,375.2L667.7,357.4L670.5,387.8L673.3,393.7L676.1,409.9L678.9,401.2L681.7,393.7L684.5,389.8L687.3,379.6L690.1,369.8L692.9,381.7L695.7,394.3L698.5,393.0L701.3,406.7L704.1,413.6L706.9,415.8L709.7,418.6L712.5,422.9L715.3,426.2L718.1,429.0L720.9,428.0L723.7,426.2L726.5,413.2L729.3,400.2L732.1,404.1L734.9,383.5"/>
<path class="l" style="stroke-width:1.7" stroke="#333" d="M72.1,324.9L74.9,326.4L77.7,323.6L80.5,336.6L83.3,339.2L86.1,306.3L88.9,304.8L91.7,255.4L94.5,280.0L97.3,306.9L100.1,281.0L102.9,231.6L105.7,336.8L108.5,327.5L111.2,225.0L114.0,185.0L116.8,185.0L119.6,228.0L122.4,270.0L125.2,318.0L128.0,393.7L130.8,375.2L133.6,290.0L136.4,218.5L139.2,226.8L142.0,285.0L144.8,359.0L147.6,375.2L150.4,401.2L153.2,407.3L156.0,335.0L158.8,259.7L161.6,254.3L164.4,290.0L167.2,336.2L170.0,370.9L172.8,386.0L175.6,401.2L178.4,385.0L181.2,366.0L184.0,348.0L186.8,329.7L189.5,382.8L192.3,390.4L195.1,418.6L197.9,420.3L200.7,412.1L203.5,360.0L206.3,270.0L209.1,149.3L211.9,165.6L214.7,232.6L217.5,247.8L220.3,272.7L223.1,360.0L225.9,422.9L228.7,340.0L231.5,295.0L234.3,228.3L237.1,270.6L239.9,216.4L242.7,238.0L245.5,180.0L248.3,305.0L251.1,150.0L253.9,79.3L256.7,120.0L259.5,98.0L262.3,77.3L265.1,108.8L267.8,96.2L270.6,244.6L273.4,215.9L276.2,229.4L279.0,290.0L281.8,356.8L284.6,336.2L287.4,328.6L290.2,285.3L293.0,316.7L295.8,311.9L298.6,339.4L301.4,319.9L304.2,337.3L307.0,362.2L309.8,393.0L312.6,300.0L315.4,216.4L318.2,220.7L321.0,268.0L323.8,310.0L326.6,385.0L329.4,427.7L332.2,405.0L335.0,370.0L337.8,338.4L340.6,341.0L343.4,366.6L346.1,404.5L348.9,419.7L351.7,420.3L354.5,415.3L357.3,377.4L360.1,340.5L362.9,376.3L365.7,382.4L368.5,385.0L371.3,396.9L374.1,427.7L376.9,413.2L379.7,370.9L382.5,371.5L385.3,381.7L388.1,354.0L390.9,381.7L393.7,406.7L396.5,406.7L399.3,368.7L402.1,389.3L404.9,379.6L407.7,385.0L410.5,381.7L413.3,357.2L416.1,399.1L418.9,392.1L421.7,400.2L424.4,360.0L427.2,332.9L430.0,310.2L432.8,297.0L435.6,292.0L438.4,287.5L441.2,370.0L444.0,417.5L446.8,395.8L449.6,338.4L452.4,258.8L455.2,265.8L458.0,262.5L460.8,244.1L463.6,254.9L466.4,277.3L469.2,234.0L472.0,164.7L474.8,155.0L477.6,146.3L480.4,197.2L483.2,218.9L486.0,247.1L488.8,299.0L491.6,205.9L494.4,248.3L497.2,247.0L500.0,278.1L502.7,271.2L505.5,285.9L508.3,247.5L511.1,298.0L513.9,243.3L516.7,330.0L519.5,403.4L522.3,416.4L525.1,406.0L527.9,418.6L530.7,421.4L533.5,415.3L536.3,407.7L539.1,387.8L541.9,388.7L544.7,357.9L547.5,337.3L550.3,344.4L553.1,379.6L555.9,403.0L558.7,336.2L561.5,342.3L564.3,310.2L567.1,297.6L569.9,304.1L572.7,338.4L575.5,369.8L578.3,381.7L581.0,406.7L583.8,354.2L586.6,352.5L589.4,395.2L592.2,400.2L595.0,415.8L597.8,403.4L600.6,389.3L603.4,402.3L606.2,349.0L609.0,278.0L611.8,267.0L614.6,257.2L617.4,258.9L620.2,250.7L623.0,156.2L625.8,149.7L628.6,115.0L631.4,59.1L634.2,71.7L637.0,84.7L639.8,99.9L642.6,173.6L645.4,179.7L648.2,246.0L651.0,310.0L653.8,379.0L656.6,364.8L659.3,375.2L662.1,405.6L664.9,375.2L667.7,357.4L670.5,387.8L673.3,393.7L676.1,409.9L678.9,401.2L681.7,393.7L684.5,389.8L687.3,379.6L690.1,369.8L692.9,381.7L695.7,394.3L698.5,393.0L701.3,406.7L704.1,413.6L706.9,415.8L709.7,418.6L712.5,422.9L715.3,426.2L718.1,429.0L720.9,428.0L723.7,426.2L726.5,413.2L729.3,400.2L732.1,404.1L734.9,383.5"/>
</svg>
<span class="cb" style="left:10.4px;top:466.3px"></span><span class="lb" style="left:26.2px;top:468.5px;color:#1f77b4">BOCORWF1</span>
<span class="cb" style="left:139.4px;top:466.3px"></span><span class="lb" style="left:155.2px;top:468.5px;color:#ff7f0e">CAPTL_WF</span>
<span class="cb" style="left:269.0px;top:466.3px"></span><span class="lb" style="left:284.8px;top:468.5px;color:#2ca02c">CULLRGWF</span>
<span class="cb" style="left:399.2px;top:466.3px"></span><span class="lb" style="left:415.0px;top:468.5px;color:#d62728">GULLRWF1</span>
<span class="cb" style="left:528.9px;top:466.3px"></span><span class="lb" style="left:544.7px;top:468.5px;color:#9467bd">GUNNING1</span>
<span class="cb" style="left:658.4px;top:466.3px"></span><span class="lb" style="left:674.2px;top:468.5px;color:#8c564b">TARALGA1</span>
<span class="cb" style="left:10.4px;top:490.3px"></span><span class="lb" style="left:26.2px;top:492.5px;color:#e377c2">WOODLWN1</span>
<span class="cb ck" style="left:139.4px;top:490.3px"><svg viewBox="0 0 12 12"><path d="M2.1,5.9L4.6,8.5L9.7,2.6" /></svg></span><span class="lb" style="left:155.2px;top:492.5px;color:#7f7f7f">BLUFF1</span>
<span class="cb ck" style="left:269.0px;top:490.3px"><svg viewBox="0 0 12 12"><path d="M2.1,5.9L4.6,8.5L9.7,2.6" /></svg></span><span class="lb" style="left:284.8px;top:492.5px;color:#bcbd22">CATHROCK</span>
<span class="cb ck" style="left:399.2px;top:490.3px"><svg viewBox="0 0 12 12"><path d="M2.1,5.9L4.6,8.5L9.7,2.6" /></svg></span><span class="lb" style="left:415.0px;top:492.5px;color:#17becf">CLEMGPWF</span>
<span class="cb ck" style="left:528.9px;top:490.3px"><svg viewBox="0 0 12 12"><path d="M2.1,5.9L4.6,8.5L9.7,2.6" /></svg></span><span class="lb" style="left:544.7px;top:492.5px;color:#1f77b4">CNUNDAWF</span>
<span class="cb ck" style="left:658.4px;top:490.3px"><svg viewBox="0 0 12 12"><path d="M2.1,5.9L4.6,8.5L9.7,2.6" /></svg></span><span class="lb" style="left:674.2px;top:492.5px;color:#ff7f0e">HALLWF1</span>
<span class="cb ck" style="left:10.4px;top:514.3px"><svg viewBox="0 0 12 12"><path d="M2.1,5.9L4.6,8.5L9.7,2.6" /></svg></span><span class="lb" style="left:26.2px;top:516.5px;color:#2ca02c">HALLWF2</span>
<span class="cb ck" style="left:139.4px;top:514.3px"><svg viewBox="0 0 12 12"><path d="M2.1,5.9L4.6,8.5L9.7,2.6" /></svg></span><span class="lb" style="left:155.2px;top:516.5px;color:#d62728">HDWF1</span>
<span class="cb ck" style="left:269.0px;top:514.3px"><svg viewBox="0 0 12 12"><path d="M2.1,5.9L4.6,8.5L9.7,2.6" /></svg></span><span class="lb" style="left:284.8px;top:516.5px;color:#9467bd">LKBONNY1</span>
<span class="cb ck" style="left:399.2px;top:514.3px"><svg viewBox="0 0 12 12"><path d="M2.1,5.9L4.6,8.5L9.7,2.6" /></svg></span><span class="lb" style="left:415.0px;top:516.5px;color:#8c564b">LKBONNY2</span>
<span class="cb ck" style="left:528.9px;top:514.3px"><svg viewBox="0 0 12 12"><path d="M2.1,5.9L4.6,8.5L9.7,2.6" /></svg></span><span class="lb" style="left:544.7px;top:516.5px;color:#e377c2">LKBONNY3</span>
<span class="cb ck" style="left:658.4px;top:514.3px"><svg viewBox="0 0 12 12"><path d="M2.1,5.9L4.6,8.5L9.7,2.6" /></svg></span><span class="lb" style="left:674.2px;top:516.5px;color:#7f7f7f">MTMILLAR</span>
<span class="cb ck" style="left:10.4px;top:538.3px"><svg viewBox="0 0 12 12"><path d="M2.1,5.9L4.6,8.5L9.7,2.6" /></svg></span><span class="lb" style="left:26.2px;top:540.5px;color:#bcbd22">NBHWF1</span>
<span class="cb ck" style="left:139.4px;top:538.3px"><svg viewBox="0 0 12 12"><path d="M2.1,5.9L4.6,8.5L9.7,2.6" /></svg></span><span class="lb" style="left:155.2px;top:540.5px;color:#17becf">SNOWNTH1</span>
<span class="cb ck" style="left:269.0px;top:538.3px"><svg viewBox="0 0 12 12"><path d="M2.1,5.9L4.6,8.5L9.7,2.6" /></svg></span><span class="lb" style="left:284.8px;top:540.5px;color:#1f77b4">SNOWSTH1</span>
<span class="cb ck" style="left:399.2px;top:538.3px"><svg viewBox="0 0 12 12"><path d="M2.1,5.9L4.6,8.5L9.7,2.6" /></svg></span><span class="lb" style="left:415.0px;top:540.5px;color:#ff7f0e">SNOWTWN1</span>
<span class="cb ck" style="left:528.9px;top:538.3px"><svg viewBox="0 0 12 12"><path d="M2.1,5.9L4.6,8.5L9.7,2.6" /></svg></span><span class="lb" style="left:544.7px;top:540.5px;color:#2ca02c">STARHLWF</span>
<span class="cb ck" style="left:658.4px;top:538.3px"><svg viewBox="0 0 12 12"><path d="M2.1,5.9L4.6,8.5L9.7,2.6" /></svg></span><span class="lb" style="left:674.2px;top:540.5px;color:#d62728">WATERLWF</span>
<span class="cb ck" style="left:10.4px;top:562.3px"><svg viewBox="0 0 12 12"><path d="M2.1,5.9L4.6,8.5L9.7,2.6" /></svg></span><span class="lb" style="left:26.2px;top:564.5px;color:#9467bd">WPWF</span>
<span class="cb" style="left:139.4px;top:562.3px"></span><span class="lb" style="left:155.2px;top:564.5px;color:#8c564b">MUSSELR1</span>
<span class="cb" style="left:269.0px;top:562.3px"></span><span class="lb" style="left:284.8px;top:564.5px;color:#e377c2">WOOLNTH1</span>
<span class="cb" style="left:399.2px;top:562.3px"></span><span class="lb" style="left:415.0px;top:564.5px;color:#7f7f7f">ARWF1</span>
<span class="cb" style="left:528.9px;top:562.3px"></span><span class="lb" style="left:544.7px;top:564.5px;color:#bcbd22">BALDHWF1</span>
<span class="cb" style="left:658.4px;top:562.3px"></span><span class="lb" style="left:674.2px;top:564.5px;color:#17becf">CHALLHWF</span>
<span class="cb" style="left:10.4px;top:586.3px"></span><span class="lb" style="left:26.2px;top:588.5px;color:#1f77b4">MACARTH1</span>
<span class="cb" style="left:139.4px;top:586.3px"></span><span class="lb" style="left:155.2px;top:588.5px;color:#ff7f0e">MERCER01</span>
<span class="cb" style="left:269.0px;top:586.3px"></span><span class="lb" style="left:284.8px;top:588.5px;color:#2ca02c">MLWF1</span>
<span class="cb" style="left:399.2px;top:586.3px"></span><span class="lb" style="left:415.0px;top:588.5px;color:#d62728">OAKLAND1</span>
<span class="cb" style="left:528.9px;top:586.3px"></span><span class="lb" style="left:544.7px;top:588.5px;color:#9467bd">PORTWF</span>
<span class="cb" style="left:658.4px;top:586.3px"></span><span class="lb" style="left:674.2px;top:588.5px;color:#8c564b">WAUBRAWF</span>
<span class="cb" style="left:10.4px;top:610.3px"></span><span class="lb" style="left:26.2px;top:612.5px;color:#e377c2">YAMBUKWF</span>
<span class="cb ck" style="left:139.4px;top:610.3px"><svg viewBox="0 0 12 12"><path d="M2.1,5.9L4.6,8.5L9.7,2.6" /></svg></span><span class="lb" style="left:155.2px;top:612.5px;color:#222">Subtotal</span>
<span class="cb" style="left:269.0px;top:610.3px"></span><span class="lb" style="left:284.8px;top:612.5px;color:#222">Total</span>
<span class="cb" style="left:10.4px;top:634.3px"></span><span class="lb" style="left:26.2px;top:636.5px;color:#222">ACT1</span>
<span class="cb" style="left:139.4px;top:634.3px"></span><span class="lb" style="left:155.2px;top:636.5px;color:#222">NSW1</span>
<span class="cb" style="left:269.0px;top:634.3px"></span><span class="lb" style="left:284.8px;top:636.5px;color:#222">QLD1</span>
<span class="cb ck" style="left:399.2px;top:634.3px"><svg viewBox="0 0 12 12"><path d="M2.1,5.9L4.6,8.5L9.7,2.6" /></svg></span><span class="lb" style="left:415.0px;top:636.5px;color:#222">SA1</span>
<span class="cb" style="left:528.9px;top:634.3px"></span><span class="lb" style="left:544.7px;top:636.5px;color:#222">TAS1</span>
<span class="cb" style="left:658.4px;top:634.3px"></span><span class="lb" style="left:674.2px;top:636.5px;color:#222">VIC1</span>
</body></html>
